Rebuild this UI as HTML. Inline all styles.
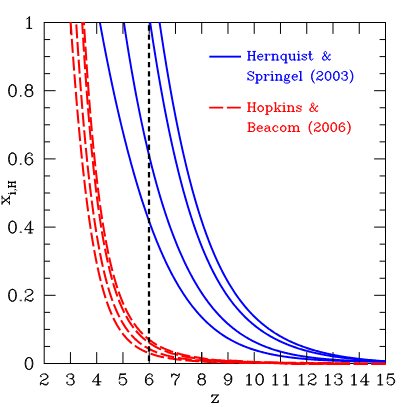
<!DOCTYPE html>
<html><head><meta charset="utf-8"><title>x_i,H vs z</title>
<style>
html,body{margin:0;padding:0;background:#fff;}
body{width:407px;height:407px;overflow:hidden;font-family:"Liberation Serif",serif;}
svg{display:block;}
</style></head><body>
<svg width="407" height="407" viewBox="0 0 407 407">
<rect width="407" height="407" fill="#fff"/>
<defs><clipPath id="c"><rect x="43.7" y="22" width="342.3" height="344"/></clipPath></defs>
<g clip-path="url(#c)" fill="none" stroke="#0000ff" stroke-width="1.95" stroke-linejoin="round">
<path d="M385.50 361.40 L384.71 361.40 L383.92 361.41 L383.14 361.41 L382.35 361.42 L381.56 361.42 L380.77 361.42 L379.99 361.42 L379.20 361.43 L378.41 361.43 L377.62 361.43 L376.84 361.43 L376.05 361.43 L375.26 361.43 L374.47 361.43 L373.69 361.42 L372.90 361.42 L372.11 361.42 L371.32 361.42 L370.54 361.41 L369.75 361.41 L368.96 361.40 L368.17 361.40 L367.38 361.39 L366.60 361.39 L365.81 361.38 L365.02 361.37 L364.23 361.36 L363.45 361.36 L362.66 361.35 L361.87 361.34 L361.08 361.33 L360.30 361.32 L359.51 361.31 L358.72 361.30 L357.93 361.28 L357.15 361.27 L356.36 361.26 L355.57 361.25 L354.78 361.23 L354.00 361.22 L353.21 361.20 L352.42 361.19 L351.63 361.17 L350.84 361.16 L350.06 361.14 L349.27 361.12 L348.48 361.10 L347.69 361.08 L346.91 361.07 L346.12 361.05 L345.33 361.03 L344.54 361.00 L343.76 360.98 L342.97 360.96 L342.18 360.94 L341.39 360.91 L340.61 360.89 L339.82 360.87 L339.03 360.84 L338.24 360.81 L337.46 360.79 L336.67 360.76 L335.88 360.73 L335.09 360.70 L334.31 360.67 L333.52 360.64 L332.73 360.61 L331.94 360.58 L331.15 360.55 L330.37 360.52 L329.58 360.48 L328.79 360.45 L328.00 360.41 L327.22 360.37 L326.43 360.34 L325.64 360.30 L324.85 360.26 L324.07 360.22 L323.28 360.18 L322.49 360.14 L321.70 360.09 L320.92 360.05 L320.13 360.01 L319.34 359.96 L318.55 359.91 L317.77 359.87 L316.98 359.82 L316.19 359.77 L315.40 359.72 L314.61 359.66 L313.83 359.61 L313.04 359.56 L312.25 359.50 L311.46 359.45 L310.68 359.39 L309.89 359.33 L309.10 359.27 L308.31 359.21 L307.53 359.14 L306.74 359.08 L305.95 359.01 L305.16 358.95 L304.38 358.88 L303.59 358.81 L302.80 358.74 L302.01 358.66 L301.23 358.59 L300.44 358.51 L299.65 358.43 L298.86 358.35 L298.07 358.27 L297.29 358.19 L296.50 358.11 L295.71 358.02 L294.92 357.93 L294.14 357.84 L293.35 357.75 L292.56 357.66 L291.77 357.56 L290.99 357.46 L290.20 357.37 L289.41 357.26 L288.62 357.16 L287.84 357.05 L287.05 356.95 L286.26 356.84 L285.47 356.72 L284.69 356.61 L283.90 356.49 L283.11 356.37 L282.32 356.25 L281.53 356.13 L280.75 356.00 L279.96 355.87 L279.17 355.74 L278.38 355.60 L277.60 355.47 L276.81 355.33 L276.02 355.18 L275.23 355.04 L274.45 354.89 L273.66 354.74 L272.87 354.58 L272.08 354.42 L271.30 354.26 L270.51 354.10 L269.72 353.93 L268.93 353.76 L268.15 353.58 L267.36 353.40 L266.57 353.22 L265.78 353.04 L264.99 352.85 L264.21 352.66 L263.42 352.46 L262.63 352.26 L261.84 352.05 L261.06 351.85 L260.27 351.63 L259.48 351.42 L258.69 351.20 L257.91 350.97 L257.12 350.74 L256.33 350.51 L255.54 350.27 L254.76 350.02 L253.97 349.78 L253.18 349.52 L252.39 349.26 L251.61 349.00 L250.82 348.73 L250.03 348.46 L249.24 348.18 L248.45 347.90 L247.67 347.61 L246.88 347.31 L246.09 347.01 L245.30 346.71 L244.52 346.39 L243.73 346.08 L242.94 345.75 L242.15 345.42 L241.37 345.08 L240.58 344.74 L239.79 344.39 L239.00 344.04 L238.22 343.67 L237.43 343.30 L236.64 342.93 L235.85 342.54 L235.07 342.15 L234.28 341.75 L233.49 341.35 L232.70 340.93 L231.92 340.51 L231.13 340.08 L230.34 339.65 L229.55 339.20 L228.76 338.75 L227.98 338.29 L227.19 337.82 L226.40 337.34 L225.61 336.86 L224.83 336.36 L224.04 335.86 L223.25 335.34 L222.46 334.82 L221.68 334.29 L220.89 333.74 L220.10 333.19 L219.31 332.63 L218.53 332.06 L217.74 331.48 L216.95 330.89 L216.16 330.28 L215.38 329.67 L214.59 329.05 L213.80 328.41 L213.01 327.77 L212.22 327.11 L211.44 326.44 L210.65 325.76 L209.86 325.07 L209.07 324.36 L208.29 323.65 L207.50 322.92 L206.71 322.18 L205.92 321.43 L205.14 320.66 L204.35 319.88 L203.56 319.09 L202.77 318.28 L201.99 317.47 L201.20 316.63 L200.41 315.79 L199.62 314.93 L198.84 314.05 L198.05 313.16 L197.26 312.26 L196.47 311.34 L195.68 310.41 L194.90 309.46 L194.11 308.49 L193.32 307.51 L192.53 306.52 L191.75 305.50 L190.96 304.48 L190.17 303.43 L189.38 302.37 L188.60 301.29 L187.81 300.20 L187.02 299.09 L186.23 297.96 L185.45 296.81 L184.66 295.65 L183.87 294.47 L183.08 293.26 L182.30 292.05 L181.51 290.81 L180.72 289.55 L179.93 288.28 L179.14 286.98 L178.36 285.67 L177.57 284.33 L176.78 282.98 L175.99 281.61 L175.21 280.21 L174.42 278.80 L173.63 277.36 L172.84 275.90 L172.06 274.43 L171.27 272.93 L170.48 271.41 L169.69 269.87 L168.91 268.30 L168.12 266.72 L167.33 265.11 L166.54 263.48 L165.76 261.82 L164.97 260.15 L164.18 258.45 L163.39 256.72 L162.60 254.97 L161.82 253.20 L161.03 251.41 L160.24 249.59 L159.45 247.74 L158.67 245.88 L157.88 243.98 L157.09 242.06 L156.30 240.12 L155.52 238.15 L154.73 236.16 L153.94 234.14 L153.15 232.09 L152.37 230.02 L151.58 227.92 L150.79 225.79 L150.00 223.64 L149.22 221.46 L148.43 219.25 L147.64 217.01 L146.85 214.75 L146.06 212.46 L145.28 210.14 L144.49 207.80 L143.70 205.42 L142.91 203.02 L142.13 200.59 L141.34 198.12 L140.55 195.63 L139.76 193.11 L138.98 190.57 L138.19 187.99 L137.40 185.38 L136.61 182.74 L135.83 180.07 L135.04 177.37 L134.25 174.64 L133.46 171.88 L132.68 169.09 L131.89 166.26 L131.10 163.41 L130.31 160.52 L129.53 157.61 L128.74 154.66 L127.95 151.67 L127.16 148.66 L126.37 145.61 L125.59 142.53 L124.80 139.42 L124.01 136.28 L123.22 133.10 L122.44 129.88 L121.65 126.64 L120.86 123.36 L120.07 120.04 L119.29 116.69 L118.50 113.31 L117.71 109.89 L116.92 106.44 L116.14 102.95 L115.35 99.42 L114.56 95.86 L113.77 92.26 L112.99 88.63 L112.20 84.96 L111.41 81.25 L110.62 77.50 L109.83 73.72 L109.05 69.90 L108.26 66.04 L107.47 62.14 L106.68 58.21 L105.90 54.23 L105.11 50.21 L104.32 46.16 L103.53 42.06 L102.75 37.92 L101.96 33.74 L101.17 29.52 L100.38 25.25 L99.60 20.95 L98.81 16.60"/>
<path d="M385.50 361.63 L384.71 361.62 L383.92 361.61 L383.14 361.60 L382.35 361.59 L381.56 361.57 L380.77 361.56 L379.99 361.55 L379.20 361.53 L378.41 361.52 L377.62 361.51 L376.84 361.49 L376.05 361.48 L375.26 361.46 L374.47 361.44 L373.69 361.43 L372.90 361.41 L372.11 361.39 L371.32 361.37 L370.54 361.35 L369.75 361.33 L368.96 361.31 L368.17 361.29 L367.38 361.27 L366.60 361.25 L365.81 361.23 L365.02 361.20 L364.23 361.18 L363.45 361.15 L362.66 361.13 L361.87 361.10 L361.08 361.08 L360.30 361.05 L359.51 361.02 L358.72 361.00 L357.93 360.97 L357.15 360.94 L356.36 360.91 L355.57 360.88 L354.78 360.85 L354.00 360.81 L353.21 360.78 L352.42 360.75 L351.63 360.71 L350.84 360.68 L350.06 360.64 L349.27 360.61 L348.48 360.57 L347.69 360.53 L346.91 360.49 L346.12 360.45 L345.33 360.41 L344.54 360.37 L343.76 360.32 L342.97 360.28 L342.18 360.24 L341.39 360.19 L340.61 360.14 L339.82 360.10 L339.03 360.05 L338.24 360.00 L337.46 359.95 L336.67 359.90 L335.88 359.84 L335.09 359.79 L334.31 359.73 L333.52 359.68 L332.73 359.62 L331.94 359.56 L331.15 359.50 L330.37 359.44 L329.58 359.38 L328.79 359.31 L328.00 359.25 L327.22 359.18 L326.43 359.12 L325.64 359.05 L324.85 358.98 L324.07 358.90 L323.28 358.83 L322.49 358.76 L321.70 358.68 L320.92 358.60 L320.13 358.52 L319.34 358.44 L318.55 358.36 L317.77 358.27 L316.98 358.19 L316.19 358.10 L315.40 358.01 L314.61 357.92 L313.83 357.82 L313.04 357.73 L312.25 357.63 L311.46 357.53 L310.68 357.43 L309.89 357.33 L309.10 357.22 L308.31 357.11 L307.53 357.00 L306.74 356.89 L305.95 356.78 L305.16 356.66 L304.38 356.54 L303.59 356.42 L302.80 356.30 L302.01 356.17 L301.23 356.05 L300.44 355.91 L299.65 355.78 L298.86 355.64 L298.07 355.51 L297.29 355.36 L296.50 355.22 L295.71 355.07 L294.92 354.92 L294.14 354.77 L293.35 354.62 L292.56 354.46 L291.77 354.29 L290.99 354.13 L290.20 353.96 L289.41 353.79 L288.62 353.61 L287.84 353.44 L287.05 353.25 L286.26 353.07 L285.47 352.88 L284.69 352.69 L283.90 352.49 L283.11 352.29 L282.32 352.09 L281.53 351.88 L280.75 351.67 L279.96 351.46 L279.17 351.24 L278.38 351.01 L277.60 350.78 L276.81 350.55 L276.02 350.32 L275.23 350.08 L274.45 349.83 L273.66 349.58 L272.87 349.33 L272.08 349.07 L271.30 348.80 L270.51 348.53 L269.72 348.26 L268.93 347.98 L268.15 347.69 L267.36 347.40 L266.57 347.11 L265.78 346.81 L264.99 346.50 L264.21 346.19 L263.42 345.87 L262.63 345.55 L261.84 345.22 L261.06 344.89 L260.27 344.54 L259.48 344.20 L258.69 343.84 L257.91 343.48 L257.12 343.12 L256.33 342.74 L255.54 342.36 L254.76 341.98 L253.97 341.58 L253.18 341.18 L252.39 340.77 L251.61 340.36 L250.82 339.94 L250.03 339.51 L249.24 339.07 L248.45 338.62 L247.67 338.17 L246.88 337.71 L246.09 337.24 L245.30 336.76 L244.52 336.28 L243.73 335.78 L242.94 335.28 L242.15 334.77 L241.37 334.25 L240.58 333.72 L239.79 333.18 L239.00 332.63 L238.22 332.07 L237.43 331.51 L236.64 330.93 L235.85 330.34 L235.07 329.75 L234.28 329.14 L233.49 328.52 L232.70 327.90 L231.92 327.26 L231.13 326.61 L230.34 325.95 L229.55 325.28 L228.76 324.60 L227.98 323.90 L227.19 323.20 L226.40 322.48 L225.61 321.75 L224.83 321.01 L224.04 320.26 L223.25 319.49 L222.46 318.72 L221.68 317.93 L220.89 317.12 L220.10 316.30 L219.31 315.47 L218.53 314.63 L217.74 313.77 L216.95 312.90 L216.16 312.01 L215.38 311.11 L214.59 310.20 L213.80 309.27 L213.01 308.32 L212.22 307.36 L211.44 306.39 L210.65 305.40 L209.86 304.39 L209.07 303.37 L208.29 302.33 L207.50 301.27 L206.71 300.20 L205.92 299.11 L205.14 298.00 L204.35 296.88 L203.56 295.74 L202.77 294.58 L201.99 293.40 L201.20 292.20 L200.41 290.99 L199.62 289.75 L198.84 288.50 L198.05 287.23 L197.26 285.93 L196.47 284.62 L195.68 283.29 L194.90 281.93 L194.11 280.56 L193.32 279.16 L192.53 277.75 L191.75 276.31 L190.96 274.85 L190.17 273.36 L189.38 271.86 L188.60 270.33 L187.81 268.77 L187.02 267.20 L186.23 265.60 L185.45 263.97 L184.66 262.32 L183.87 260.65 L183.08 258.95 L182.30 257.22 L181.51 255.47 L180.72 253.69 L179.93 251.89 L179.14 250.06 L178.36 248.20 L177.57 246.31 L176.78 244.39 L175.99 242.45 L175.21 240.48 L174.42 238.47 L173.63 236.44 L172.84 234.38 L172.06 232.28 L171.27 230.16 L170.48 228.00 L169.69 225.81 L168.91 223.59 L168.12 221.33 L167.33 219.05 L166.54 216.72 L165.76 214.37 L164.97 211.98 L164.18 209.55 L163.39 207.09 L162.60 204.59 L161.82 202.05 L161.03 199.48 L160.24 196.86 L159.45 194.21 L158.67 191.52 L157.88 188.79 L157.09 186.02 L156.30 183.21 L155.52 180.36 L154.73 177.46 L153.94 174.53 L153.15 171.54 L152.37 168.52 L151.58 165.45 L150.79 162.33 L150.00 159.17 L149.22 155.96 L148.43 152.70 L147.64 149.40 L146.85 146.04 L146.06 142.64 L145.28 139.18 L144.49 135.68 L143.70 132.12 L142.91 128.51 L142.13 124.84 L141.34 121.12 L140.55 117.34 L139.76 113.51 L138.98 109.62 L138.19 105.67 L137.40 101.66 L136.61 97.58 L135.83 93.45 L135.04 89.26 L134.25 85.00 L133.46 80.67 L132.68 76.28 L131.89 71.82 L131.10 67.30 L130.31 62.70 L129.53 58.04 L128.74 53.30 L127.95 48.48 L127.16 43.60 L126.37 38.63 L125.59 33.59 L124.80 28.47 L124.01 23.27 L123.22 17.98"/>
</g>
<g stroke="#000" fill="none" shape-rendering="auto">
<rect x="44.2" y="22.5" width="341.3" height="341.0" stroke-width="1"/>
</g>
<g stroke="#000" stroke-width="1" fill="none">
<path d="M70.45 363.5 v-11.4 M70.45 22.5 v11.4 M96.71 363.5 v-11.4 M96.71 22.5 v11.4 M122.96 363.5 v-11.4 M122.96 22.5 v11.4 M149.22 363.5 v-11.4 M149.22 22.5 v11.4 M175.47 363.5 v-11.4 M175.47 22.5 v11.4 M201.72 363.5 v-11.4 M201.72 22.5 v11.4 M227.98 363.5 v-11.4 M227.98 22.5 v11.4 M254.23 363.5 v-11.4 M254.23 22.5 v11.4 M280.48 363.5 v-11.4 M280.48 22.5 v11.4 M306.74 363.5 v-11.4 M306.74 22.5 v11.4 M332.99 363.5 v-11.4 M332.99 22.5 v11.4 M359.25 363.5 v-11.4 M359.25 22.5 v11.4 M44.2 346.45 h5.9 M385.5 346.45 h-5.9 M44.2 329.40 h5.9 M385.5 329.40 h-5.9 M44.2 312.35 h5.9 M385.5 312.35 h-5.9 M44.2 295.30 h11.4 M385.5 295.30 h-11.4 M44.2 278.25 h5.9 M385.5 278.25 h-5.9 M44.2 261.20 h5.9 M385.5 261.20 h-5.9 M44.2 244.15 h5.9 M385.5 244.15 h-5.9 M44.2 227.10 h11.4 M385.5 227.10 h-11.4 M44.2 210.05 h5.9 M385.5 210.05 h-5.9 M44.2 193.00 h5.9 M385.5 193.00 h-5.9 M44.2 175.95 h5.9 M385.5 175.95 h-5.9 M44.2 158.90 h11.4 M385.5 158.90 h-11.4 M44.2 141.85 h5.9 M385.5 141.85 h-5.9 M44.2 124.80 h5.9 M385.5 124.80 h-5.9 M44.2 107.75 h5.9 M385.5 107.75 h-5.9 M44.2 90.70 h11.4 M385.5 90.70 h-11.4 M44.2 73.65 h5.9 M385.5 73.65 h-5.9 M44.2 56.60 h5.9 M385.5 56.60 h-5.9 M44.2 39.55 h5.9 M385.5 39.55 h-5.9"/>
</g>
<g clip-path="url(#c)" fill="none" stroke="#0000ff" stroke-width="1.95" stroke-linejoin="round">
<path d="M385.50 361.43 L384.71 361.39 L383.92 361.35 L383.14 361.30 L382.35 361.26 L381.56 361.21 L380.77 361.17 L379.99 361.12 L379.20 361.07 L378.41 361.03 L377.62 360.98 L376.84 360.93 L376.05 360.88 L375.26 360.82 L374.47 360.77 L373.69 360.72 L372.90 360.66 L372.11 360.61 L371.32 360.55 L370.54 360.50 L369.75 360.44 L368.96 360.38 L368.17 360.32 L367.38 360.26 L366.60 360.20 L365.81 360.13 L365.02 360.07 L364.23 360.00 L363.45 359.94 L362.66 359.87 L361.87 359.80 L361.08 359.73 L360.30 359.66 L359.51 359.59 L358.72 359.52 L357.93 359.44 L357.15 359.37 L356.36 359.29 L355.57 359.21 L354.78 359.13 L354.00 359.05 L353.21 358.97 L352.42 358.89 L351.63 358.80 L350.84 358.72 L350.06 358.63 L349.27 358.54 L348.48 358.45 L347.69 358.36 L346.91 358.27 L346.12 358.17 L345.33 358.08 L344.54 357.98 L343.76 357.88 L342.97 357.78 L342.18 357.68 L341.39 357.57 L340.61 357.47 L339.82 357.36 L339.03 357.25 L338.24 357.14 L337.46 357.03 L336.67 356.91 L335.88 356.80 L335.09 356.68 L334.31 356.56 L333.52 356.44 L332.73 356.31 L331.94 356.19 L331.15 356.06 L330.37 355.93 L329.58 355.80 L328.79 355.66 L328.00 355.53 L327.22 355.39 L326.43 355.25 L325.64 355.10 L324.85 354.96 L324.07 354.81 L323.28 354.66 L322.49 354.51 L321.70 354.35 L320.92 354.20 L320.13 354.04 L319.34 353.87 L318.55 353.71 L317.77 353.54 L316.98 353.37 L316.19 353.20 L315.40 353.02 L314.61 352.84 L313.83 352.66 L313.04 352.47 L312.25 352.29 L311.46 352.09 L310.68 351.90 L309.89 351.70 L309.10 351.50 L308.31 351.30 L307.53 351.09 L306.74 350.88 L305.95 350.67 L305.16 350.45 L304.38 350.23 L303.59 350.00 L302.80 349.78 L302.01 349.54 L301.23 349.31 L300.44 349.07 L299.65 348.83 L298.86 348.58 L298.07 348.33 L297.29 348.07 L296.50 347.81 L295.71 347.55 L294.92 347.28 L294.14 347.01 L293.35 346.73 L292.56 346.45 L291.77 346.16 L290.99 345.87 L290.20 345.57 L289.41 345.27 L288.62 344.97 L287.84 344.65 L287.05 344.34 L286.26 344.02 L285.47 343.69 L284.69 343.36 L283.90 343.02 L283.11 342.68 L282.32 342.33 L281.53 341.97 L280.75 341.61 L279.96 341.25 L279.17 340.87 L278.38 340.50 L277.60 340.11 L276.81 339.72 L276.02 339.32 L275.23 338.91 L274.45 338.50 L273.66 338.08 L272.87 337.66 L272.08 337.23 L271.30 336.79 L270.51 336.34 L269.72 335.88 L268.93 335.42 L268.15 334.95 L267.36 334.47 L266.57 333.99 L265.78 333.49 L264.99 332.99 L264.21 332.48 L263.42 331.96 L262.63 331.43 L261.84 330.89 L261.06 330.34 L260.27 329.79 L259.48 329.22 L258.69 328.65 L257.91 328.06 L257.12 327.47 L256.33 326.86 L255.54 326.25 L254.76 325.62 L253.97 324.99 L253.18 324.34 L252.39 323.68 L251.61 323.01 L250.82 322.33 L250.03 321.64 L249.24 320.94 L248.45 320.22 L247.67 319.49 L246.88 318.75 L246.09 318.00 L245.30 317.23 L244.52 316.45 L243.73 315.66 L242.94 314.85 L242.15 314.03 L241.37 313.20 L240.58 312.35 L239.79 311.49 L239.00 310.61 L238.22 309.72 L237.43 308.81 L236.64 307.89 L235.85 306.95 L235.07 305.99 L234.28 305.02 L233.49 304.04 L232.70 303.03 L231.92 302.01 L231.13 300.97 L230.34 299.91 L229.55 298.84 L228.76 297.74 L227.98 296.63 L227.19 295.50 L226.40 294.35 L225.61 293.18 L224.83 291.98 L224.04 290.77 L223.25 289.54 L222.46 288.29 L221.68 287.01 L220.89 285.72 L220.10 284.40 L219.31 283.06 L218.53 281.70 L217.74 280.31 L216.95 278.90 L216.16 277.47 L215.38 276.01 L214.59 274.52 L213.80 273.01 L213.01 271.48 L212.22 269.92 L211.44 268.33 L210.65 266.72 L209.86 265.08 L209.07 263.41 L208.29 261.71 L207.50 259.99 L206.71 258.24 L205.92 256.45 L205.14 254.64 L204.35 252.79 L203.56 250.92 L202.77 249.01 L201.99 247.07 L201.20 245.10 L200.41 243.10 L199.62 241.06 L198.84 238.99 L198.05 236.89 L197.26 234.75 L196.47 232.57 L195.68 230.36 L194.90 228.11 L194.11 225.83 L193.32 223.51 L192.53 221.15 L191.75 218.75 L190.96 216.31 L190.17 213.83 L189.38 211.32 L188.60 208.76 L187.81 206.16 L187.02 203.52 L186.23 200.83 L185.45 198.11 L184.66 195.34 L183.87 192.52 L183.08 189.66 L182.30 186.76 L181.51 183.81 L180.72 180.81 L179.93 177.76 L179.14 174.67 L178.36 171.53 L177.57 168.34 L176.78 165.10 L175.99 161.81 L175.21 158.47 L174.42 155.08 L173.63 151.64 L172.84 148.15 L172.06 144.60 L171.27 141.00 L170.48 137.34 L169.69 133.63 L168.91 129.86 L168.12 126.04 L167.33 122.17 L166.54 118.23 L165.76 114.24 L164.97 110.19 L164.18 106.08 L163.39 101.91 L162.60 97.68 L161.82 93.39 L161.03 89.04 L160.24 84.63 L159.45 80.16 L158.67 75.62 L157.88 71.03 L157.09 66.37 L156.30 61.64 L155.52 56.85 L154.73 52.00 L153.94 47.08 L153.15 42.10 L152.37 37.05 L151.58 31.93 L150.79 26.75 L150.00 21.50 L149.48 17.97"/>
<path d="M385.50 361.25 L384.71 361.20 L383.92 361.15 L383.14 361.09 L382.35 361.04 L381.56 360.98 L380.77 360.92 L379.99 360.86 L379.20 360.80 L378.41 360.74 L377.62 360.68 L376.84 360.62 L376.05 360.55 L375.26 360.49 L374.47 360.42 L373.69 360.36 L372.90 360.29 L372.11 360.22 L371.32 360.15 L370.54 360.07 L369.75 360.00 L368.96 359.92 L368.17 359.85 L367.38 359.77 L366.60 359.69 L365.81 359.61 L365.02 359.53 L364.23 359.45 L363.45 359.36 L362.66 359.28 L361.87 359.19 L361.08 359.10 L360.30 359.01 L359.51 358.92 L358.72 358.83 L357.93 358.73 L357.15 358.64 L356.36 358.54 L355.57 358.44 L354.78 358.34 L354.00 358.24 L353.21 358.13 L352.42 358.03 L351.63 357.92 L350.84 357.81 L350.06 357.70 L349.27 357.59 L348.48 357.47 L347.69 357.36 L346.91 357.24 L346.12 357.12 L345.33 357.00 L344.54 356.87 L343.76 356.75 L342.97 356.62 L342.18 356.49 L341.39 356.36 L340.61 356.22 L339.82 356.09 L339.03 355.95 L338.24 355.81 L337.46 355.67 L336.67 355.52 L335.88 355.37 L335.09 355.22 L334.31 355.07 L333.52 354.92 L332.73 354.76 L331.94 354.60 L331.15 354.44 L330.37 354.28 L329.58 354.11 L328.79 353.94 L328.00 353.77 L327.22 353.59 L326.43 353.42 L325.64 353.24 L324.85 353.05 L324.07 352.87 L323.28 352.68 L322.49 352.49 L321.70 352.29 L320.92 352.09 L320.13 351.89 L319.34 351.69 L318.55 351.48 L317.77 351.27 L316.98 351.06 L316.19 350.84 L315.40 350.62 L314.61 350.40 L313.83 350.17 L313.04 349.94 L312.25 349.70 L311.46 349.46 L310.68 349.22 L309.89 348.98 L309.10 348.73 L308.31 348.47 L307.53 348.21 L306.74 347.95 L305.95 347.69 L305.16 347.42 L304.38 347.14 L303.59 346.86 L302.80 346.58 L302.01 346.29 L301.23 346.00 L300.44 345.70 L299.65 345.40 L298.86 345.10 L298.07 344.78 L297.29 344.47 L296.50 344.15 L295.71 343.82 L294.92 343.49 L294.14 343.15 L293.35 342.81 L292.56 342.46 L291.77 342.11 L290.99 341.75 L290.20 341.38 L289.41 341.01 L288.62 340.64 L287.84 340.25 L287.05 339.87 L286.26 339.47 L285.47 339.07 L284.69 338.66 L283.90 338.25 L283.11 337.83 L282.32 337.40 L281.53 336.96 L280.75 336.52 L279.96 336.07 L279.17 335.61 L278.38 335.15 L277.60 334.68 L276.81 334.20 L276.02 333.71 L275.23 333.22 L274.45 332.71 L273.66 332.20 L272.87 331.68 L272.08 331.15 L271.30 330.61 L270.51 330.07 L269.72 329.51 L268.93 328.95 L268.15 328.37 L267.36 327.79 L266.57 327.20 L265.78 326.59 L264.99 325.98 L264.21 325.36 L263.42 324.72 L262.63 324.08 L261.84 323.42 L261.06 322.76 L260.27 322.08 L259.48 321.39 L258.69 320.69 L257.91 319.98 L257.12 319.26 L256.33 318.52 L255.54 317.77 L254.76 317.01 L253.97 316.24 L253.18 315.45 L252.39 314.65 L251.61 313.84 L250.82 313.01 L250.03 312.17 L249.24 311.32 L248.45 310.45 L247.67 309.56 L246.88 308.66 L246.09 307.75 L245.30 306.82 L244.52 305.87 L243.73 304.91 L242.94 303.93 L242.15 302.94 L241.37 301.92 L240.58 300.89 L239.79 299.85 L239.00 298.78 L238.22 297.70 L237.43 296.60 L236.64 295.48 L235.85 294.34 L235.07 293.18 L234.28 292.00 L233.49 290.80 L232.70 289.59 L231.92 288.35 L231.13 287.09 L230.34 285.80 L229.55 284.50 L228.76 283.17 L227.98 281.82 L227.19 280.45 L226.40 279.06 L225.61 277.64 L224.83 276.19 L224.04 274.73 L223.25 273.23 L222.46 271.71 L221.68 270.17 L220.89 268.60 L220.10 267.00 L219.31 265.38 L218.53 263.72 L217.74 262.04 L216.95 260.33 L216.16 258.60 L215.38 256.83 L214.59 255.03 L213.80 253.20 L213.01 251.35 L212.22 249.46 L211.44 247.53 L210.65 245.58 L209.86 243.59 L209.07 241.57 L208.29 239.52 L207.50 237.43 L206.71 235.30 L205.92 233.14 L205.14 230.95 L204.35 228.72 L203.56 226.45 L202.77 224.14 L201.99 221.79 L201.20 219.41 L200.41 216.98 L199.62 214.52 L198.84 212.01 L198.05 209.47 L197.26 206.88 L196.47 204.25 L195.68 201.58 L194.90 198.86 L194.11 196.10 L193.32 193.29 L192.53 190.44 L191.75 187.54 L190.96 184.60 L190.17 181.61 L189.38 178.57 L188.60 175.48 L187.81 172.34 L187.02 169.16 L186.23 165.92 L185.45 162.63 L184.66 159.29 L183.87 155.90 L183.08 152.45 L182.30 148.95 L181.51 145.40 L180.72 141.79 L179.93 138.13 L179.14 134.41 L178.36 130.63 L177.57 126.80 L176.78 122.91 L175.99 118.96 L175.21 114.95 L174.42 110.88 L173.63 106.75 L172.84 102.57 L172.06 98.31 L171.27 94.00 L170.48 89.63 L169.69 85.19 L168.91 80.69 L168.12 76.12 L167.33 71.49 L166.54 66.79 L165.76 62.03 L164.97 57.21 L164.18 52.31 L163.39 47.35 L162.60 42.32 L161.82 37.23 L161.03 32.07 L160.24 26.83 L159.45 21.53 L158.93 17.96"/>
</g>
<g clip-path="url(#c)" fill="none" stroke="#ff0000" stroke-width="2.05" stroke-dasharray="14.0 3.7" stroke-linejoin="round">
<path d="M385.50 364.05 L384.71 364.05 L383.92 364.05 L383.14 364.05 L382.35 364.05 L381.56 364.05 L380.77 364.05 L379.99 364.05 L379.20 364.05 L378.41 364.05 L377.62 364.05 L376.84 364.05 L376.05 364.05 L375.26 364.05 L374.47 364.05 L373.69 364.05 L372.90 364.05 L372.11 364.05 L371.32 364.05 L370.54 364.05 L369.75 364.05 L368.96 364.05 L368.17 364.05 L367.38 364.05 L366.60 364.05 L365.81 364.05 L365.02 364.05 L364.23 364.05 L363.45 364.04 L362.66 364.04 L361.87 364.04 L361.08 364.04 L360.30 364.04 L359.51 364.04 L358.72 364.03 L357.93 364.03 L357.15 364.03 L356.36 364.03 L355.57 364.03 L354.78 364.02 L354.00 364.02 L353.21 364.02 L352.42 364.02 L351.63 364.02 L350.84 364.01 L350.06 364.01 L349.27 364.01 L348.48 364.01 L347.69 364.01 L346.91 364.00 L346.12 364.00 L345.33 364.00 L344.54 364.00 L343.76 364.00 L342.97 364.00 L342.18 363.99 L341.39 363.99 L340.61 363.99 L340.50 363.99"/>
<path d="M340.50 363.99 L339.82 363.99 L339.03 363.99 L338.24 363.99 L337.46 363.98 L336.67 363.98 L335.88 363.98 L335.09 363.98 L334.31 363.98 L333.52 363.98 L332.73 363.97 L331.94 363.97 L331.15 363.97 L330.37 363.97 L329.58 363.97 L328.79 363.97 L328.00 363.96 L327.22 363.96 L326.43 363.96 L325.64 363.96 L324.85 363.96 L324.07 363.96 L323.28 363.96 L322.49 363.95 L321.70 363.95 L320.92 363.95 L320.13 363.95 L319.34 363.95 L318.55 363.95 L317.77 363.95 L316.98 363.95 L316.19 363.94 L315.40 363.94 L314.61 363.94 L313.83 363.94 L313.04 363.94 L312.25 363.94 L311.46 363.94 L310.68 363.94 L309.89 363.94 L309.10 363.94 L308.31 363.93 L307.53 363.93 L306.74 363.93 L305.95 363.93 L305.16 363.93 L304.38 363.93 L303.59 363.93 L302.80 363.93 L302.01 363.92 L301.23 363.92 L300.44 363.92 L299.65 363.92 L298.86 363.92 L298.07 363.91 L297.29 363.91 L296.50 363.91 L295.71 363.91 L294.92 363.90 L294.14 363.90 L293.35 363.90 L292.56 363.89 L291.77 363.87 L290.99 363.85 L290.20 363.83 L289.41 363.80 L288.62 363.77 L287.84 363.74 L287.05 363.70 L286.26 363.66 L285.47 363.63 L284.69 363.59 L283.90 363.55 L283.11 363.51 L282.32 363.47 L281.53 363.43 L280.75 363.39 L279.96 363.36 L279.17 363.32 L278.38 363.29 L277.60 363.27 L276.81 363.24 L276.02 363.22 L275.23 363.20 L274.45 363.19 L273.66 363.18 L272.87 363.17 L272.08 363.15 L271.30 363.14 L270.51 363.13 L269.72 363.11 L268.93 363.10 L268.15 363.09 L267.36 363.08 L266.57 363.06 L265.78 363.05 L264.99 363.04 L264.21 363.03 L263.42 363.02 L262.63 363.00 L261.84 362.99 L261.06 362.98 L260.27 362.97 L259.48 362.96 L258.69 362.95 L257.91 362.94 L257.12 362.93 L256.33 362.92 L255.54 362.91 L254.76 362.90 L253.97 362.89 L253.18 362.88 L252.39 362.88 L251.61 362.87 L250.82 362.87 L250.03 362.86 L249.24 362.86 L248.45 362.86 L247.67 362.86 L246.88 362.86 L246.09 362.86 L245.30 362.86 L244.52 362.86 L243.73 362.86 L242.94 362.86 L242.15 362.85 L241.37 362.85 L240.58 362.85 L239.79 362.85 L239.00 362.84 L238.22 362.84 L237.43 362.83 L236.64 362.82 L235.85 362.81 L235.07 362.80 L234.28 362.79 L233.49 362.78 L232.70 362.76 L231.92 362.75 L231.13 362.74 L230.34 362.72 L229.55 362.71 L228.76 362.69 L227.98 362.67 L227.19 362.66 L226.40 362.64 L225.61 362.62 L224.83 362.60 L224.04 362.59 L223.25 362.57 L222.46 362.54 L221.68 362.52 L220.89 362.50 L220.10 362.48 L219.31 362.45 L218.53 362.43 L217.74 362.40 L216.95 362.37 L216.16 362.34 L215.38 362.31 L214.59 362.28 L213.80 362.25 L213.01 362.21 L212.22 362.17 L211.44 362.12 L210.65 362.07 L209.86 362.03 L209.07 361.97 L208.29 361.92 L207.50 361.87 L206.71 361.81 L205.92 361.76 L205.14 361.71 L204.35 361.65 L203.56 361.60 L202.77 361.55 L201.99 361.50 L201.20 361.45 L200.41 361.41 L199.62 361.36 L198.84 361.31 L198.05 361.26 L197.26 361.21 L196.47 361.16 L195.68 361.11 L194.90 361.06 L194.11 361.00 L193.32 360.95 L192.53 360.89 L191.75 360.83 L190.96 360.77 L190.17 360.71 L189.38 360.65 L188.60 360.58 L187.81 360.51 L187.02 360.45 L186.23 360.38 L185.45 360.30 L184.66 360.23 L183.87 360.15 L183.08 360.08 L182.30 360.00 L181.51 359.91 L180.72 359.83 L179.93 359.74 L179.14 359.65 L178.36 359.56 L177.57 359.47 L176.78 359.37 L175.99 359.27 L175.21 359.17 L174.42 359.07 L173.63 358.96 L172.84 358.85 L172.06 358.73 L171.27 358.61 L170.48 358.49 L169.69 358.37 L168.91 358.24 L168.12 358.10 L167.33 357.97 L166.54 357.82 L165.76 357.68 L164.97 357.53 L164.18 357.37 L163.39 357.21 L162.60 357.05 L161.82 356.88 L161.03 356.70 L160.24 356.52 L159.45 356.33 L158.67 356.14 L157.88 355.93 L157.09 355.73 L156.30 355.51 L155.52 355.29 L154.73 355.06 L153.94 354.83 L153.15 354.58 L152.37 354.33 L151.58 354.07 L150.79 353.80 L150.00 353.52 L149.22 353.23 L148.43 352.93 L147.64 352.62 L146.85 352.29 L146.06 351.96 L145.28 351.62 L144.49 351.26 L143.70 350.89 L142.91 350.50 L142.13 350.11 L141.34 349.69 L140.55 349.26 L139.76 348.82 L138.98 348.36 L138.19 347.88 L137.40 347.39 L136.61 346.87 L135.83 346.34 L135.04 345.78 L134.25 345.21 L133.46 344.61 L132.68 343.99 L131.89 343.35 L131.10 342.68 L130.31 341.98 L129.53 341.26 L128.74 340.51 L127.95 339.73 L127.16 338.92 L126.37 338.08 L125.59 337.20 L124.80 336.29 L124.01 335.34 L123.22 334.36 L122.44 333.34 L121.65 332.27 L120.86 331.16 L120.07 330.01 L119.29 328.81 L118.50 327.56 L117.71 326.26 L116.92 324.91 L116.14 323.51 L115.35 322.04 L114.56 320.52 L113.77 318.94 L112.99 317.29 L112.20 315.57 L111.41 313.78 L110.62 311.92 L109.83 309.98 L109.05 307.96 L108.26 305.86 L107.47 303.68 L106.68 301.40 L105.90 299.03 L105.11 296.57 L104.32 294.00 L103.53 291.33 L102.75 288.55 L101.96 285.65 L101.17 282.64 L100.38 279.51 L99.60 276.25 L98.81 272.86 L98.02 269.33 L97.23 265.66 L96.45 261.85 L95.66 257.88 L94.87 253.76 L94.08 249.47 L93.29 245.02 L92.51 240.39 L91.72 235.59 L90.93 230.60 L90.14 225.42 L89.36 220.05 L88.57 214.47 L87.78 208.69 L86.99 202.69 L86.21 196.48 L85.42 190.04 L84.63 183.38 L83.84 176.48 L83.06 169.34 L82.27 161.96 L81.48 154.33 L80.69 146.44 L79.91 138.30 L79.12 129.89 L78.33 121.22 L77.54 112.29 L76.75 103.08 L75.97 93.60 L75.18 83.84 L74.39 73.81 L73.60 63.51 L72.82 52.92 L72.03 42.06 L71.24 30.93 L70.45 19.53" stroke-dashoffset="0.25"/>
<path d="M385.50 363.95 L384.71 363.95 L383.92 363.95 L383.14 363.95 L382.35 363.95 L381.56 363.95 L380.77 363.95 L379.99 363.94 L379.20 363.94 L378.41 363.94 L377.62 363.94 L376.84 363.93 L376.05 363.93 L375.26 363.93 L374.47 363.92 L373.69 363.92 L372.90 363.91 L372.11 363.91 L371.32 363.91 L370.54 363.90 L369.75 363.90 L368.96 363.90 L368.17 363.89 L367.38 363.89 L366.60 363.88 L365.81 363.88 L365.02 363.88 L364.23 363.87 L363.45 363.87 L362.66 363.86 L361.87 363.86 L361.08 363.85 L360.30 363.85 L359.51 363.84 L358.72 363.84 L357.93 363.83 L357.15 363.83 L356.36 363.82 L355.57 363.82 L354.78 363.81 L354.00 363.81 L353.21 363.80 L352.42 363.80 L351.63 363.79 L350.84 363.79 L350.06 363.78 L349.27 363.78 L348.48 363.77 L347.69 363.77 L346.91 363.76 L346.12 363.76 L345.33 363.75 L344.54 363.75 L343.76 363.74 L342.97 363.74 L342.18 363.73 L341.39 363.73 L340.61 363.72 L340.50 363.72"/>
<path d="M340.50 363.72 L339.82 363.72 L339.03 363.71 L338.24 363.71 L337.46 363.70 L336.67 363.70 L335.88 363.69 L335.09 363.68 L334.31 363.68 L333.52 363.67 L332.73 363.67 L331.94 363.66 L331.15 363.66 L330.37 363.65 L329.58 363.65 L328.79 363.64 L328.00 363.64 L327.22 363.63 L326.43 363.63 L325.64 363.62 L324.85 363.62 L324.07 363.62 L323.28 363.61 L322.49 363.61 L321.70 363.61 L320.92 363.60 L320.13 363.60 L319.34 363.60 L318.55 363.60 L317.77 363.59 L316.98 363.59 L316.19 363.59 L315.40 363.59 L314.61 363.58 L313.83 363.58 L313.04 363.58 L312.25 363.58 L311.46 363.57 L310.68 363.57 L309.89 363.57 L309.10 363.57 L308.31 363.56 L307.53 363.56 L306.74 363.56 L305.95 363.56 L305.16 363.55 L304.38 363.55 L303.59 363.55 L302.80 363.54 L302.01 363.54 L301.23 363.54 L300.44 363.53 L299.65 363.53 L298.86 363.53 L298.07 363.52 L297.29 363.52 L296.50 363.51 L295.71 363.51 L294.92 363.51 L294.14 363.50 L293.35 363.49 L292.56 363.48 L291.77 363.47 L290.99 363.45 L290.20 363.43 L289.41 363.41 L288.62 363.38 L287.84 363.35 L287.05 363.32 L286.26 363.29 L285.47 363.26 L284.69 363.23 L283.90 363.19 L283.11 363.16 L282.32 363.13 L281.53 363.09 L280.75 363.06 L279.96 363.03 L279.17 363.01 L278.38 362.98 L277.60 362.96 L276.81 362.94 L276.02 362.92 L275.23 362.90 L274.45 362.89 L273.66 362.88 L272.87 362.87 L272.08 362.86 L271.30 362.85 L270.51 362.84 L269.72 362.83 L268.93 362.82 L268.15 362.81 L267.36 362.80 L266.57 362.78 L265.78 362.77 L264.99 362.76 L264.21 362.75 L263.42 362.74 L262.63 362.73 L261.84 362.72 L261.06 362.70 L260.27 362.69 L259.48 362.68 L258.69 362.67 L257.91 362.65 L257.12 362.64 L256.33 362.62 L255.54 362.61 L254.76 362.60 L253.97 362.58 L253.18 362.56 L252.39 362.55 L251.61 362.53 L250.82 362.51 L250.03 362.49 L249.24 362.48 L248.45 362.46 L247.67 362.44 L246.88 362.42 L246.09 362.40 L245.30 362.38 L244.52 362.36 L243.73 362.34 L242.94 362.32 L242.15 362.30 L241.37 362.28 L240.58 362.25 L239.79 362.23 L239.00 362.21 L238.22 362.19 L237.43 362.17 L236.64 362.15 L235.85 362.12 L235.07 362.10 L234.28 362.08 L233.49 362.06 L232.70 362.04 L231.92 362.02 L231.13 362.00 L230.34 361.98 L229.55 361.96 L228.76 361.95 L227.98 361.93 L227.19 361.91 L226.40 361.89 L225.61 361.87 L224.83 361.85 L224.04 361.83 L223.25 361.81 L222.46 361.79 L221.68 361.76 L220.89 361.74 L220.10 361.71 L219.31 361.68 L218.53 361.65 L217.74 361.62 L216.95 361.59 L216.16 361.56 L215.38 361.52 L214.59 361.48 L213.80 361.44 L213.01 361.39 L212.22 361.35 L211.44 361.30 L210.65 361.24 L209.86 361.19 L209.07 361.14 L208.29 361.08 L207.50 361.02 L206.71 360.96 L205.92 360.90 L205.14 360.84 L204.35 360.78 L203.56 360.72 L202.77 360.66 L201.99 360.60 L201.20 360.54 L200.41 360.48 L199.62 360.41 L198.84 360.35 L198.05 360.28 L197.26 360.22 L196.47 360.15 L195.68 360.07 L194.90 360.00 L194.11 359.93 L193.32 359.85 L192.53 359.77 L191.75 359.69 L190.96 359.60 L190.17 359.52 L189.38 359.43 L188.60 359.34 L187.81 359.25 L187.02 359.15 L186.23 359.05 L185.45 358.95 L184.66 358.85 L183.87 358.74 L183.08 358.63 L182.30 358.52 L181.51 358.40 L180.72 358.28 L179.93 358.16 L179.14 358.03 L178.36 357.90 L177.57 357.77 L176.78 357.63 L175.99 357.49 L175.21 357.35 L174.42 357.20 L173.63 357.04 L172.84 356.88 L172.06 356.72 L171.27 356.55 L170.48 356.38 L169.69 356.20 L168.91 356.02 L168.12 355.83 L167.33 355.63 L166.54 355.43 L165.76 355.22 L164.97 355.01 L164.18 354.79 L163.39 354.56 L162.60 354.33 L161.82 354.08 L161.03 353.84 L160.24 353.58 L159.45 353.31 L158.67 353.04 L157.88 352.76 L157.09 352.47 L156.30 352.17 L155.52 351.86 L154.73 351.54 L153.94 351.21 L153.15 350.86 L152.37 350.51 L151.58 350.15 L150.79 349.77 L150.00 349.38 L149.22 348.98 L148.43 348.57 L147.64 348.14 L146.85 347.69 L146.06 347.23 L145.28 346.76 L144.49 346.27 L143.70 345.76 L142.91 345.24 L142.13 344.70 L141.34 344.14 L140.55 343.55 L139.76 342.95 L138.98 342.33 L138.19 341.69 L137.40 341.02 L136.61 340.33 L135.83 339.62 L135.04 338.88 L134.25 338.11 L133.46 337.31 L132.68 336.49 L131.89 335.64 L131.10 334.75 L130.31 333.84 L129.53 332.89 L128.74 331.90 L127.95 330.88 L127.16 329.82 L126.37 328.72 L125.59 327.58 L124.80 326.40 L124.01 325.17 L123.22 323.90 L122.44 322.57 L121.65 321.20 L120.86 319.78 L120.07 318.30 L119.29 316.77 L118.50 315.17 L117.71 313.52 L116.92 311.80 L116.14 310.01 L115.35 308.15 L114.56 306.23 L113.77 304.22 L112.99 302.14 L112.20 299.98 L111.41 297.73 L110.62 295.39 L109.83 292.96 L109.05 290.44 L108.26 287.81 L107.47 285.08 L106.68 282.24 L105.90 279.29 L105.11 276.22 L104.32 273.03 L103.53 269.71 L102.75 266.26 L101.96 262.67 L101.17 258.94 L100.38 255.05 L99.60 251.01 L98.81 246.81 L98.02 242.44 L97.23 237.90 L96.45 233.18 L95.66 228.26 L94.87 223.15 L94.08 217.84 L93.29 212.31 L92.51 206.57 L91.72 200.60 L90.93 194.39 L90.14 187.94 L89.36 181.23 L88.57 174.27 L87.78 167.03 L86.99 159.51 L86.21 151.70 L85.42 143.58 L84.63 135.16 L83.84 126.42 L83.06 117.34 L82.27 107.93 L81.48 98.16 L80.69 88.03 L79.91 77.53 L79.12 66.64 L78.33 55.35 L77.54 43.66 L76.75 31.56 L75.97 19.02" stroke-dashoffset="10.45"/>
<path d="M385.50 363.80 L384.71 363.81 L383.92 363.81 L383.14 363.82 L382.35 363.82 L381.56 363.82 L380.77 363.82 L379.99 363.82 L379.20 363.81 L378.41 363.81 L377.62 363.81 L376.84 363.80 L376.05 363.80 L375.26 363.79 L374.47 363.78 L373.69 363.78 L372.90 363.77 L372.11 363.77 L371.32 363.76 L370.54 363.75 L369.75 363.75 L368.96 363.74 L368.17 363.74 L367.38 363.73 L366.60 363.72 L365.81 363.72 L365.02 363.71 L364.23 363.70 L363.45 363.69 L362.66 363.69 L361.87 363.68 L361.08 363.67 L360.30 363.66 L359.51 363.65 L358.72 363.64 L357.93 363.63 L357.15 363.63 L356.36 363.62 L355.57 363.61 L354.78 363.60 L354.00 363.59 L353.21 363.58 L352.42 363.57 L351.63 363.56 L350.84 363.56 L350.06 363.55 L349.27 363.54 L348.48 363.53 L347.69 363.52 L346.91 363.52 L346.12 363.51 L345.33 363.50 L344.54 363.50 L343.76 363.49 L342.97 363.48 L342.18 363.48 L341.39 363.47 L340.61 363.46 L340.50 363.46"/>
<path d="M340.50 363.46 L339.82 363.45 L339.03 363.45 L338.24 363.44 L337.46 363.43 L336.67 363.43 L335.88 363.42 L335.09 363.41 L334.31 363.40 L333.52 363.40 L332.73 363.39 L331.94 363.38 L331.15 363.37 L330.37 363.37 L329.58 363.36 L328.79 363.36 L328.00 363.35 L327.22 363.34 L326.43 363.34 L325.64 363.33 L324.85 363.33 L324.07 363.32 L323.28 363.32 L322.49 363.31 L321.70 363.31 L320.92 363.30 L320.13 363.30 L319.34 363.30 L318.55 363.29 L317.77 363.29 L316.98 363.29 L316.19 363.28 L315.40 363.28 L314.61 363.28 L313.83 363.27 L313.04 363.27 L312.25 363.27 L311.46 363.26 L310.68 363.26 L309.89 363.26 L309.10 363.25 L308.31 363.25 L307.53 363.24 L306.74 363.24 L305.95 363.24 L305.16 363.23 L304.38 363.23 L303.59 363.22 L302.80 363.22 L302.01 363.21 L301.23 363.21 L300.44 363.20 L299.65 363.20 L298.86 363.19 L298.07 363.18 L297.29 363.18 L296.50 363.17 L295.71 363.17 L294.92 363.16 L294.14 363.15 L293.35 363.14 L292.56 363.13 L291.77 363.12 L290.99 363.11 L290.20 363.09 L289.41 363.07 L288.62 363.05 L287.84 363.03 L287.05 363.01 L286.26 362.99 L285.47 362.97 L284.69 362.95 L283.90 362.92 L283.11 362.90 L282.32 362.88 L281.53 362.85 L280.75 362.83 L279.96 362.81 L279.17 362.79 L278.38 362.77 L277.60 362.75 L276.81 362.73 L276.02 362.72 L275.23 362.70 L274.45 362.69 L273.66 362.68 L272.87 362.67 L272.08 362.65 L271.30 362.64 L270.51 362.63 L269.72 362.61 L268.93 362.60 L268.15 362.59 L267.36 362.57 L266.57 362.56 L265.78 362.54 L264.99 362.53 L264.21 362.51 L263.42 362.49 L262.63 362.48 L261.84 362.46 L261.06 362.44 L260.27 362.43 L259.48 362.41 L258.69 362.39 L257.91 362.37 L257.12 362.35 L256.33 362.33 L255.54 362.31 L254.76 362.29 L253.97 362.27 L253.18 362.24 L252.39 362.22 L251.61 362.18 L250.82 362.15 L250.03 362.11 L249.24 362.08 L248.45 362.04 L247.67 361.99 L246.88 361.95 L246.09 361.91 L245.30 361.86 L244.52 361.82 L243.73 361.77 L242.94 361.73 L242.15 361.68 L241.37 361.63 L240.58 361.59 L239.79 361.54 L239.00 361.50 L238.22 361.46 L237.43 361.42 L236.64 361.38 L235.85 361.34 L235.07 361.30 L234.28 361.27 L233.49 361.24 L232.70 361.21 L231.92 361.19 L231.13 361.17 L230.34 361.15 L229.55 361.13 L228.76 361.11 L227.98 361.09 L227.19 361.08 L226.40 361.06 L225.61 361.05 L224.83 361.03 L224.04 361.01 L223.25 360.99 L222.46 360.97 L221.68 360.95 L220.89 360.92 L220.10 360.89 L219.31 360.86 L218.53 360.82 L217.74 360.78 L216.95 360.73 L216.16 360.68 L215.38 360.63 L214.59 360.57 L213.80 360.50 L213.01 360.42 L212.22 360.34 L211.44 360.26 L210.65 360.17 L209.86 360.08 L209.07 359.98 L208.29 359.88 L207.50 359.78 L206.71 359.68 L205.92 359.58 L205.14 359.47 L204.35 359.37 L203.56 359.27 L202.77 359.17 L201.99 359.07 L201.20 358.98 L200.41 358.88 L199.62 358.79 L198.84 358.69 L198.05 358.59 L197.26 358.49 L196.47 358.38 L195.68 358.28 L194.90 358.17 L194.11 358.06 L193.32 357.94 L192.53 357.82 L191.75 357.70 L190.96 357.58 L190.17 357.45 L189.38 357.32 L188.60 357.19 L187.81 357.05 L187.02 356.91 L186.23 356.77 L185.45 356.62 L184.66 356.47 L183.87 356.31 L183.08 356.15 L182.30 355.99 L181.51 355.82 L180.72 355.65 L179.93 355.47 L179.14 355.29 L178.36 355.10 L177.57 354.91 L176.78 354.72 L175.99 354.52 L175.21 354.31 L174.42 354.10 L173.63 353.88 L172.84 353.65 L172.06 353.42 L171.27 353.19 L170.48 352.94 L169.69 352.69 L168.91 352.44 L168.12 352.17 L167.33 351.90 L166.54 351.62 L165.76 351.33 L164.97 351.04 L164.18 350.73 L163.39 350.42 L162.60 350.10 L161.82 349.77 L161.03 349.43 L160.24 349.08 L159.45 348.71 L158.67 348.34 L157.88 347.96 L157.09 347.57 L156.30 347.16 L155.52 346.74 L154.73 346.31 L153.94 345.86 L153.15 345.41 L152.37 344.93 L151.58 344.45 L150.79 343.94 L150.00 343.43 L149.22 342.89 L148.43 342.34 L147.64 341.77 L146.85 341.19 L146.06 340.58 L145.28 339.95 L144.49 339.31 L143.70 338.64 L142.91 337.95 L142.13 337.24 L141.34 336.51 L140.55 335.75 L139.76 334.96 L138.98 334.15 L138.19 333.31 L137.40 332.45 L136.61 331.55 L135.83 330.62 L135.04 329.66 L134.25 328.67 L133.46 327.64 L132.68 326.58 L131.89 325.48 L131.10 324.34 L130.31 323.16 L129.53 321.94 L128.74 320.67 L127.95 319.36 L127.16 318.00 L126.37 316.59 L125.59 315.13 L124.80 313.61 L124.01 312.04 L123.22 310.41 L122.44 308.72 L121.65 306.97 L120.86 305.15 L120.07 303.26 L119.29 301.30 L118.50 299.26 L117.71 297.15 L116.92 294.95 L116.14 292.67 L115.35 290.30 L114.56 287.83 L113.77 285.27 L112.99 282.61 L112.20 279.85 L111.41 276.97 L110.62 273.98 L109.83 270.86 L109.05 267.63 L108.26 264.26 L107.47 260.75 L106.68 257.10 L105.90 253.31 L105.11 249.35 L104.32 245.24 L103.53 240.95 L102.75 236.49 L101.96 231.84 L101.17 227.00 L100.38 221.96 L99.60 216.70 L98.81 211.23 L98.02 205.53 L97.23 199.58 L96.45 193.39 L95.66 186.93 L94.87 180.20 L94.08 173.19 L93.29 165.87 L92.51 158.25 L91.72 150.30 L90.93 142.02 L90.14 133.38 L89.36 124.38 L88.57 114.99 L87.78 105.20 L86.99 95.00 L86.21 84.36 L85.42 73.28 L84.63 61.72 L83.84 49.67 L83.06 37.11 L82.27 24.03 L82.01 19.54" stroke-dashoffset="13.95"/>
<path d="M385.50 363.70 L384.71 363.71 L383.92 363.72 L383.14 363.72 L382.35 363.73 L381.56 363.73 L380.77 363.72 L379.99 363.72 L379.20 363.71 L378.41 363.71 L377.62 363.70 L376.84 363.69 L376.05 363.68 L375.26 363.67 L374.47 363.66 L373.69 363.64 L372.90 363.63 L372.11 363.62 L371.32 363.61 L370.54 363.61 L369.75 363.60 L368.96 363.59 L368.17 363.58 L367.38 363.57 L366.60 363.57 L365.81 363.56 L365.02 363.55 L364.23 363.54 L363.45 363.53 L362.66 363.52 L361.87 363.51 L361.08 363.50 L360.30 363.49 L359.51 363.48 L358.72 363.47 L357.93 363.46 L357.15 363.45 L356.36 363.44 L355.57 363.43 L354.78 363.42 L354.00 363.41 L353.21 363.40 L352.42 363.39 L351.63 363.38 L350.84 363.37 L350.06 363.36 L349.27 363.35 L348.48 363.34 L347.69 363.33 L346.91 363.32 L346.12 363.31 L345.33 363.30 L344.54 363.29 L343.76 363.28 L342.97 363.27 L342.18 363.26 L341.39 363.25 L340.61 363.24 L340.50 363.24"/>
<path d="M340.50 363.24 L339.82 363.23 L339.03 363.22 L338.24 363.21 L337.46 363.20 L336.67 363.19 L335.88 363.18 L335.09 363.17 L334.31 363.15 L333.52 363.14 L332.73 363.13 L331.94 363.12 L331.15 363.11 L330.37 363.10 L329.58 363.09 L328.79 363.08 L328.00 363.07 L327.22 363.06 L326.43 363.05 L325.64 363.04 L324.85 363.04 L324.07 363.03 L323.28 363.02 L322.49 363.02 L321.70 363.01 L320.92 363.01 L320.13 363.00 L319.34 363.00 L318.55 362.99 L317.77 362.99 L316.98 362.98 L316.19 362.98 L315.40 362.98 L314.61 362.97 L313.83 362.97 L313.04 362.96 L312.25 362.96 L311.46 362.95 L310.68 362.95 L309.89 362.94 L309.10 362.94 L308.31 362.93 L307.53 362.92 L306.74 362.92 L305.95 362.91 L305.16 362.91 L304.38 362.90 L303.59 362.89 L302.80 362.89 L302.01 362.88 L301.23 362.87 L300.44 362.87 L299.65 362.86 L298.86 362.85 L298.07 362.84 L297.29 362.84 L296.50 362.83 L295.71 362.82 L294.92 362.81 L294.14 362.80 L293.35 362.79 L292.56 362.78 L291.77 362.77 L290.99 362.76 L290.20 362.75 L289.41 362.74 L288.62 362.73 L287.84 362.72 L287.05 362.71 L286.26 362.70 L285.47 362.68 L284.69 362.67 L283.90 362.66 L283.11 362.65 L282.32 362.63 L281.53 362.62 L280.75 362.61 L279.96 362.59 L279.17 362.58 L278.38 362.56 L277.60 362.55 L276.81 362.53 L276.02 362.52 L275.23 362.50 L274.45 362.49 L273.66 362.47 L272.87 362.46 L272.08 362.44 L271.30 362.43 L270.51 362.41 L269.72 362.39 L268.93 362.37 L268.15 362.36 L267.36 362.34 L266.57 362.32 L265.78 362.30 L264.99 362.28 L264.21 362.26 L263.42 362.24 L262.63 362.22 L261.84 362.20 L261.06 362.18 L260.27 362.16 L259.48 362.14 L258.69 362.11 L257.91 362.09 L257.12 362.07 L256.33 362.04 L255.54 362.02 L254.76 361.99 L253.97 361.96 L253.18 361.93 L252.39 361.89 L251.61 361.86 L250.82 361.81 L250.03 361.77 L249.24 361.72 L248.45 361.68 L247.67 361.63 L246.88 361.58 L246.09 361.52 L245.30 361.47 L244.52 361.42 L243.73 361.36 L242.94 361.31 L242.15 361.25 L241.37 361.20 L240.58 361.14 L239.79 361.09 L239.00 361.04 L238.22 360.99 L237.43 360.94 L236.64 360.89 L235.85 360.85 L235.07 360.80 L234.28 360.76 L233.49 360.73 L232.70 360.70 L231.92 360.67 L231.13 360.64 L230.34 360.62 L229.55 360.60 L228.76 360.58 L227.98 360.56 L227.19 360.55 L226.40 360.53 L225.61 360.51 L224.83 360.49 L224.04 360.47 L223.25 360.45 L222.46 360.43 L221.68 360.40 L220.89 360.37 L220.10 360.34 L219.31 360.30 L218.53 360.26 L217.74 360.21 L216.95 360.16 L216.16 360.10 L215.38 360.03 L214.59 359.96 L213.80 359.88 L213.01 359.79 L212.22 359.70 L211.44 359.59 L210.65 359.49 L209.86 359.38 L209.07 359.26 L208.29 359.14 L207.50 359.02 L206.71 358.90 L205.92 358.77 L205.14 358.65 L204.35 358.53 L203.56 358.41 L202.77 358.29 L201.99 358.18 L201.20 358.06 L200.41 357.96 L199.62 357.85 L198.84 357.73 L198.05 357.62 L197.26 357.50 L196.47 357.37 L195.68 357.25 L194.90 357.12 L194.11 356.99 L193.32 356.86 L192.53 356.72 L191.75 356.58 L190.96 356.44 L190.17 356.29 L189.38 356.14 L188.60 355.98 L187.81 355.82 L187.02 355.66 L186.23 355.49 L185.45 355.32 L184.66 355.15 L183.87 354.97 L183.08 354.78 L182.30 354.60 L181.51 354.40 L180.72 354.20 L179.93 354.00 L179.14 353.79 L178.36 353.58 L177.57 353.36 L176.78 353.13 L175.99 352.90 L175.21 352.66 L174.42 352.42 L173.63 352.17 L172.84 351.91 L172.06 351.65 L171.27 351.38 L170.48 351.10 L169.69 350.81 L168.91 350.52 L168.12 350.22 L167.33 349.91 L166.54 349.59 L165.76 349.26 L164.97 348.92 L164.18 348.58 L163.39 348.22 L162.60 347.85 L161.82 347.48 L161.03 347.09 L160.24 346.69 L159.45 346.28 L158.67 345.86 L157.88 345.43 L157.09 344.98 L156.30 344.52 L155.52 344.05 L154.73 343.56 L153.94 343.06 L153.15 342.54 L152.37 342.01 L151.58 341.46 L150.79 340.89 L150.00 340.31 L149.22 339.71 L148.43 339.09 L147.64 338.45 L146.85 337.79 L146.06 337.11 L145.28 336.41 L144.49 335.68 L143.70 334.94 L142.91 334.17 L142.13 333.37 L141.34 332.55 L140.55 331.70 L139.76 330.83 L138.98 329.92 L138.19 328.99 L137.40 328.02 L136.61 327.02 L135.83 325.99 L135.04 324.92 L134.25 323.82 L133.46 322.68 L132.68 321.50 L131.89 320.27 L131.10 319.01 L130.31 317.70 L129.53 316.35 L128.74 314.95 L127.95 313.50 L127.16 311.99 L126.37 310.43 L125.59 308.82 L124.80 307.15 L124.01 305.42 L123.22 303.62 L122.44 301.76 L121.65 299.83 L120.86 297.82 L120.07 295.74 L119.29 293.59 L118.50 291.35 L117.71 289.03 L116.92 286.62 L116.14 284.12 L115.35 281.52 L114.56 278.82 L113.77 276.02 L112.99 273.10 L112.20 270.08 L111.41 266.93 L110.62 263.66 L109.83 260.27 L109.05 256.73 L108.26 253.06 L107.47 249.24 L106.68 245.26 L105.90 241.12 L105.11 236.82 L104.32 232.34 L103.53 227.68 L102.75 222.83 L101.96 217.78 L101.17 212.53 L100.38 207.05 L99.60 201.35 L98.81 195.41 L98.02 189.23 L97.23 182.79 L96.45 176.08 L95.66 169.09 L94.87 161.81 L94.08 154.22 L93.29 146.32 L92.51 138.08 L91.72 129.49 L90.93 120.55 L90.14 111.22 L89.36 101.51 L88.57 91.38 L87.78 80.83 L86.99 69.83 L86.21 58.37 L85.42 46.43 L84.63 33.99 L83.84 21.02 L83.58 16.58" stroke-dashoffset="8.65"/>
</g>
<path d="M175.47 363.5 v-11.4 M201.72 363.5 v-11.4" stroke="#000" stroke-width="1" fill="none"/>
<path d="M149.0 363.5 V22.5" stroke="#000" stroke-width="2.25" fill="none" stroke-dasharray="5.4 3.773" stroke-dashoffset="-2.6"/>
<path d="M209.3 56.65 H241.0" stroke="#0000ff" stroke-width="1.9"/>
<path d="M209.2 107.6 H240.8" stroke="#ff0000" stroke-width="1.9" stroke-dasharray="14 3.7"/>
<path transform="translate(246.78 60.00) translate(0.00 0)" d="M2.01 -8.60 L2.01 0.00 M2.41 -8.60 L2.41 0.00 M7.22 -8.60 L7.22 0.00 M7.62 -8.60 L7.62 0.00 M0.80 -8.60 L3.61 -8.60 M6.02 -8.60 L8.83 -8.60 M2.41 -4.50 L7.22 -4.50 M0.80 0.00 L3.61 0.00 M6.02 0.00 L8.83 0.00 M11.24 -3.28 L16.05 -3.28 L16.05 -4.09 L15.65 -4.91 L15.25 -5.32 L14.45 -5.73 L13.24 -5.73 L12.04 -5.32 L11.24 -4.50 L10.84 -3.28 L10.84 -2.46 L11.24 -1.23 L12.04 -0.41 L13.24 0.00 L14.05 0.00 L15.25 -0.41 L16.05 -1.23 M15.65 -3.28 L15.65 -4.50 L15.25 -5.32 M13.24 -5.73 L12.44 -5.32 L11.64 -4.50 L11.24 -3.28 L11.24 -2.46 L11.64 -1.23 L12.44 -0.41 L13.24 0.00 M19.26 -5.73 L19.26 0.00 M19.66 -5.73 L19.66 0.00 M19.66 -3.28 L20.06 -4.50 L20.87 -5.32 L21.67 -5.73 L22.87 -5.73 L23.28 -5.32 L23.28 -4.91 L22.87 -4.50 L22.47 -4.91 L22.87 -5.32 M18.06 -5.73 L19.66 -5.73 M18.06 0.00 L20.87 0.00 M26.08 -5.73 L26.08 0.00 M26.49 -5.73 L26.49 0.00 M26.49 -4.50 L27.29 -5.32 L28.49 -5.73 L29.29 -5.73 L30.50 -5.32 L30.90 -4.50 L30.90 0.00 M29.29 -5.73 L30.10 -5.32 L30.50 -4.50 L30.50 0.00 M24.88 -5.73 L26.49 -5.73 M24.88 0.00 L27.69 0.00 M29.29 0.00 L32.10 0.00 M38.93 -5.73 L38.93 2.87 M39.33 -5.73 L39.33 2.87 M38.93 -4.50 L38.12 -5.32 L37.32 -5.73 L36.52 -5.73 L35.31 -5.32 L34.51 -4.50 L34.11 -3.28 L34.11 -2.46 L34.51 -1.23 L35.31 -0.41 L36.52 0.00 L37.32 0.00 L38.12 -0.41 L38.93 -1.23 M36.52 -5.73 L35.72 -5.32 L34.91 -4.50 L34.51 -3.28 L34.51 -2.46 L34.91 -1.23 L35.72 -0.41 L36.52 0.00 M37.72 2.87 L40.53 2.87 M42.94 -5.73 L42.94 -1.23 L43.34 -0.41 L44.54 0.00 L45.35 0.00 L46.55 -0.41 L47.35 -1.23 M43.34 -5.73 L43.34 -1.23 L43.74 -0.41 L44.54 0.00 M47.35 -5.73 L47.35 0.00 M47.75 -5.73 L47.75 0.00 M41.74 -5.73 L43.34 -5.73 M46.15 -5.73 L47.75 -5.73 M47.35 0.00 L48.96 0.00 M51.77 -8.60 L51.37 -8.19 L51.77 -7.78 L52.17 -8.19 L51.77 -8.60 M51.77 -5.73 L51.77 0.00 M52.17 -5.73 L52.17 0.00 M50.56 -5.73 L52.17 -5.73 M50.56 0.00 L53.37 0.00 M59.39 -4.91 L59.79 -5.73 L59.79 -4.09 L59.39 -4.91 L58.99 -5.32 L58.19 -5.73 L56.58 -5.73 L55.78 -5.32 L55.38 -4.91 L55.38 -4.09 L55.78 -3.69 L56.58 -3.28 L58.59 -2.46 L59.39 -2.05 L59.79 -1.64 M55.38 -4.50 L55.78 -4.09 L56.58 -3.69 L58.59 -2.87 L59.39 -2.46 L59.79 -2.05 L59.79 -0.82 L59.39 -0.41 L58.59 0.00 L56.98 0.00 L56.18 -0.41 L55.78 -0.82 L55.38 -1.64 L55.38 0.00 L55.78 -0.82 M63.00 -8.60 L63.00 -1.64 L63.41 -0.41 L64.21 0.00 L65.01 0.00 L65.81 -0.41 L66.21 -1.23 M63.41 -8.60 L63.41 -1.64 L63.81 -0.41 L64.21 0.00 M61.80 -5.73 L65.01 -5.73" fill="none" stroke="#0000ff" stroke-width="1.0" stroke-linecap="round" stroke-linejoin="round" stroke-opacity="1.0"/>
<path transform="translate(321.20 60.00) translate(0.00 0)" d="M8.74 -5.32 L8.32 -4.91 L8.74 -4.50 L9.15 -4.91 L9.15 -5.32 L8.74 -5.73 L8.32 -5.73 L7.90 -5.32 L7.49 -4.50 L6.66 -2.46 L5.82 -1.23 L4.99 -0.41 L4.16 0.00 L2.91 0.00 L1.66 -0.41 L1.25 -1.23 L1.25 -2.46 L1.66 -3.28 L4.16 -4.91 L4.99 -5.73 L5.41 -6.55 L5.41 -7.37 L4.99 -8.19 L4.16 -8.60 L3.33 -8.19 L2.91 -7.37 L2.91 -6.55 L3.33 -5.32 L4.16 -4.09 L6.24 -1.23 L7.07 -0.41 L8.32 0.00 L8.74 0.00 L9.15 -0.41 L9.15 -0.82 M2.91 0.00 L2.08 -0.41 L1.66 -1.23 L1.66 -2.46 L2.08 -3.28 L2.91 -4.09 M2.91 -6.55 L3.33 -5.73 L6.66 -1.23 L7.49 -0.41 L8.32 0.00" fill="none" stroke="#0000ff" stroke-width="1.0" stroke-linecap="round" stroke-linejoin="round" stroke-opacity="1.0"/>
<path transform="translate(246.78 80.20) translate(0.00 0)" d="M6.42 -7.37 L6.82 -8.60 L6.82 -6.14 L6.42 -7.37 L5.62 -8.19 L4.41 -8.60 L3.21 -8.60 L2.01 -8.19 L1.20 -7.37 L1.20 -6.55 L1.60 -5.73 L2.01 -5.32 L2.81 -4.91 L5.22 -4.09 L6.02 -3.69 L6.82 -2.87 M1.20 -6.55 L2.01 -5.73 L2.81 -5.32 L5.22 -4.50 L6.02 -4.09 L6.42 -3.69 L6.82 -2.87 L6.82 -1.23 L6.02 -0.41 L4.81 0.00 L3.61 0.00 L2.41 -0.41 L1.60 -1.23 L1.20 -2.46 L1.20 0.00 L1.60 -1.23 M10.03 -5.73 L10.03 2.87 M10.43 -5.73 L10.43 2.87 M10.43 -4.50 L11.23 -5.32 L12.04 -5.73 L12.84 -5.73 L14.04 -5.32 L14.84 -4.50 L15.25 -3.28 L15.25 -2.46 L14.84 -1.23 L14.04 -0.41 L12.84 0.00 L12.04 0.00 L11.23 -0.41 L10.43 -1.23 M12.84 -5.73 L13.64 -5.32 L14.44 -4.50 L14.84 -3.28 L14.84 -2.46 L14.44 -1.23 L13.64 -0.41 L12.84 0.00 M8.83 -5.73 L10.43 -5.73 M8.83 2.87 L11.63 2.87 M18.46 -5.73 L18.46 0.00 M18.86 -5.73 L18.86 0.00 M18.86 -3.28 L19.26 -4.50 L20.06 -5.32 L20.86 -5.73 L22.07 -5.73 L22.47 -5.32 L22.47 -4.91 L22.07 -4.50 L21.66 -4.91 L22.07 -5.32 M17.25 -5.73 L18.86 -5.73 M17.25 0.00 L20.06 0.00 M25.28 -8.60 L24.87 -8.19 L25.28 -7.78 L25.68 -8.19 L25.28 -8.60 M25.28 -5.73 L25.28 0.00 M25.68 -5.73 L25.68 0.00 M24.07 -5.73 L25.68 -5.73 M24.07 0.00 L26.88 0.00 M29.69 -5.73 L29.69 0.00 M30.09 -5.73 L30.09 0.00 M30.09 -4.50 L30.89 -5.32 L32.10 -5.73 L32.90 -5.73 L34.10 -5.32 L34.50 -4.50 L34.50 0.00 M32.90 -5.73 L33.70 -5.32 L34.10 -4.50 L34.10 0.00 M28.49 -5.73 L30.09 -5.73 M28.49 0.00 L31.29 0.00 M32.90 0.00 L35.71 0.00 M39.72 -5.73 L38.92 -5.32 L38.52 -4.91 L38.11 -4.09 L38.11 -3.28 L38.52 -2.46 L38.92 -2.05 L39.72 -1.64 L40.52 -1.64 L41.32 -2.05 L41.72 -2.46 L42.13 -3.28 L42.13 -4.09 L41.72 -4.91 L41.32 -5.32 L40.52 -5.73 L39.72 -5.73 M38.92 -5.32 L38.52 -4.50 L38.52 -2.87 L38.92 -2.05 M41.32 -2.05 L41.72 -2.87 L41.72 -4.50 L41.32 -5.32 M41.72 -4.91 L42.13 -5.32 L42.93 -5.73 L42.93 -5.32 L42.13 -5.32 M38.52 -2.46 L38.11 -2.05 L37.71 -1.23 L37.71 -0.82 L38.11 0.00 L39.32 0.41 L41.32 0.41 L42.53 0.82 L42.93 1.23 M37.71 -0.82 L38.11 -0.41 L39.32 0.00 L41.32 0.00 L42.53 0.41 L42.93 1.23 L42.93 1.64 L42.53 2.46 L41.32 2.87 L38.92 2.87 L37.71 2.46 L37.31 1.64 L37.31 1.23 L37.71 0.41 L38.92 0.00 M45.74 -3.28 L50.55 -3.28 L50.55 -4.09 L50.15 -4.91 L49.75 -5.32 L48.95 -5.73 L47.74 -5.73 L46.54 -5.32 L45.74 -4.50 L45.34 -3.28 L45.34 -2.46 L45.74 -1.23 L46.54 -0.41 L47.74 0.00 L48.55 0.00 L49.75 -0.41 L50.55 -1.23 M50.15 -3.28 L50.15 -4.50 L49.75 -5.32 M47.74 -5.73 L46.94 -5.32 L46.14 -4.50 L45.74 -3.28 L45.74 -2.46 L46.14 -1.23 L46.94 -0.41 L47.74 0.00 M53.76 -8.60 L53.76 0.00 M54.16 -8.60 L54.16 0.00 M52.56 -8.60 L54.16 -8.60 M52.56 0.00 L55.37 0.00" fill="none" stroke="#0000ff" stroke-width="1.0" stroke-linecap="round" stroke-linejoin="round" stroke-opacity="1.0"/>
<path transform="translate(309.90 80.20) translate(0.00 0)" d="M4.55 -10.24 L3.72 -9.42 L2.89 -8.19 L2.07 -6.55 L1.65 -4.50 L1.65 -2.87 L2.07 -0.82 L2.89 0.82 L3.72 2.05 L4.55 2.87 M3.72 -9.42 L2.89 -7.78 L2.48 -6.55 L2.07 -4.50 L2.07 -2.87 L2.48 -0.82 L2.89 0.41 L3.72 2.05 M7.44 -6.96 L7.85 -6.55 L7.44 -6.14 L7.03 -6.55 L7.03 -6.96 L7.44 -7.78 L7.85 -8.19 L9.09 -8.60 L10.75 -8.60 L11.99 -8.19 L12.40 -7.78 L12.82 -6.96 L12.82 -6.14 L12.40 -5.32 L11.16 -4.50 L9.09 -3.69 L8.27 -3.28 L7.44 -2.46 L7.03 -1.23 L7.03 0.00 M10.75 -8.60 L11.58 -8.19 L11.99 -7.78 L12.40 -6.96 L12.40 -6.14 L11.99 -5.32 L10.75 -4.50 L9.09 -3.69 M7.03 -0.82 L7.44 -1.23 L8.27 -1.23 L10.33 -0.41 L11.58 -0.41 L12.40 -0.82 L12.82 -1.23 M8.27 -1.23 L10.33 0.00 L11.99 0.00 L12.40 -0.41 L12.82 -1.23 L12.82 -2.05 M17.78 -8.60 L16.54 -8.19 L15.71 -6.96 L15.30 -4.91 L15.30 -3.69 L15.71 -1.64 L16.54 -0.41 L17.78 0.00 L18.60 0.00 L19.84 -0.41 L20.67 -1.64 L21.08 -3.69 L21.08 -4.91 L20.67 -6.96 L19.84 -8.19 L18.60 -8.60 L17.78 -8.60 M17.78 -8.60 L16.95 -8.19 L16.54 -7.78 L16.12 -6.96 L15.71 -4.91 L15.71 -3.69 L16.12 -1.64 L16.54 -0.82 L16.95 -0.41 L17.78 0.00 M18.60 0.00 L19.43 -0.41 L19.84 -0.82 L20.26 -1.64 L20.67 -3.69 L20.67 -4.91 L20.26 -6.96 L19.84 -7.78 L19.43 -8.19 L18.60 -8.60 M26.04 -8.60 L24.80 -8.19 L23.98 -6.96 L23.56 -4.91 L23.56 -3.69 L23.98 -1.64 L24.80 -0.41 L26.04 0.00 L26.87 0.00 L28.11 -0.41 L28.94 -1.64 L29.35 -3.69 L29.35 -4.91 L28.94 -6.96 L28.11 -8.19 L26.87 -8.60 L26.04 -8.60 M26.04 -8.60 L25.22 -8.19 L24.80 -7.78 L24.39 -6.96 L23.98 -4.91 L23.98 -3.69 L24.39 -1.64 L24.80 -0.82 L25.22 -0.41 L26.04 0.00 M26.87 0.00 L27.70 -0.41 L28.11 -0.82 L28.52 -1.64 L28.94 -3.69 L28.94 -4.91 L28.52 -6.96 L28.11 -7.78 L27.70 -8.19 L26.87 -8.60 M32.25 -6.96 L32.66 -6.55 L32.25 -6.14 L31.83 -6.55 L31.83 -6.96 L32.25 -7.78 L32.66 -8.19 L33.90 -8.60 L35.55 -8.60 L36.79 -8.19 L37.21 -7.37 L37.21 -6.14 L36.79 -5.32 L35.55 -4.91 L34.31 -4.91 M35.55 -8.60 L36.38 -8.19 L36.79 -7.37 L36.79 -6.14 L36.38 -5.32 L35.55 -4.91 M35.55 -4.91 L36.38 -4.50 L37.21 -3.69 L37.62 -2.87 L37.62 -1.64 L37.21 -0.82 L36.79 -0.41 L35.55 0.00 L33.90 0.00 L32.66 -0.41 L32.25 -0.82 L31.83 -1.64 L31.83 -2.05 L32.25 -2.46 L32.66 -2.05 L32.25 -1.64 M36.79 -4.09 L37.21 -2.87 L37.21 -1.64 L36.79 -0.82 L36.38 -0.41 L35.55 0.00 M40.10 -10.24 L40.93 -9.42 L41.75 -8.19 L42.58 -6.55 L42.99 -4.50 L42.99 -2.87 L42.58 -0.82 L41.75 0.82 L40.93 2.05 L40.10 2.87 M40.93 -9.42 L41.75 -7.78 L42.17 -6.55 L42.58 -4.50 L42.58 -2.87 L42.17 -0.82 L41.75 0.41 L40.93 2.05" fill="none" stroke="#0000ff" stroke-width="1.0" stroke-linecap="round" stroke-linejoin="round" stroke-opacity="1.0"/>
<path transform="translate(246.78 111.50) translate(0.00 0)" d="M2.04 -8.60 L2.04 0.00 M2.45 -8.60 L2.45 0.00 M7.35 -8.60 L7.35 0.00 M7.76 -8.60 L7.76 0.00 M0.82 -8.60 L3.68 -8.60 M6.13 -8.60 L8.99 -8.60 M2.45 -4.50 L7.35 -4.50 M0.82 0.00 L3.68 0.00 M6.13 0.00 L8.99 0.00 M13.48 -5.73 L12.26 -5.32 L11.44 -4.50 L11.03 -3.28 L11.03 -2.46 L11.44 -1.23 L12.26 -0.41 L13.48 0.00 L14.30 0.00 L15.52 -0.41 L16.34 -1.23 L16.75 -2.46 L16.75 -3.28 L16.34 -4.50 L15.52 -5.32 L14.30 -5.73 L13.48 -5.73 M13.48 -5.73 L12.66 -5.32 L11.85 -4.50 L11.44 -3.28 L11.44 -2.46 L11.85 -1.23 L12.66 -0.41 L13.48 0.00 M14.30 0.00 L15.11 -0.41 L15.93 -1.23 L16.34 -2.46 L16.34 -3.28 L15.93 -4.50 L15.11 -5.32 L14.30 -5.73 M20.02 -5.73 L20.02 2.87 M20.42 -5.73 L20.42 2.87 M20.42 -4.50 L21.24 -5.32 L22.06 -5.73 L22.88 -5.73 L24.10 -5.32 L24.92 -4.50 L25.33 -3.28 L25.33 -2.46 L24.92 -1.23 L24.10 -0.41 L22.88 0.00 L22.06 0.00 L21.24 -0.41 L20.42 -1.23 M22.88 -5.73 L23.69 -5.32 L24.51 -4.50 L24.92 -3.28 L24.92 -2.46 L24.51 -1.23 L23.69 -0.41 L22.88 0.00 M18.79 -5.73 L20.42 -5.73 M18.79 2.87 L21.65 2.87 M28.59 -8.60 L28.59 0.00 M29.00 -8.60 L29.00 0.00 M33.09 -5.73 L29.00 -1.64 M31.05 -3.28 L33.50 0.00 M30.64 -3.28 L33.09 0.00 M27.37 -8.60 L29.00 -8.60 M31.86 -5.73 L34.31 -5.73 M27.37 0.00 L30.23 0.00 M31.86 0.00 L34.31 0.00 M37.17 -8.60 L36.77 -8.19 L37.17 -7.78 L37.58 -8.19 L37.17 -8.60 M37.17 -5.73 L37.17 0.00 M37.58 -5.73 L37.58 0.00 M35.95 -5.73 L37.58 -5.73 M35.95 0.00 L38.81 0.00 M41.67 -5.73 L41.67 0.00 M42.08 -5.73 L42.08 0.00 M42.08 -4.50 L42.89 -5.32 L44.12 -5.73 L44.93 -5.73 L46.16 -5.32 L46.57 -4.50 L46.57 0.00 M44.93 -5.73 L45.75 -5.32 L46.16 -4.50 L46.16 0.00 M40.44 -5.73 L42.08 -5.73 M40.44 0.00 L43.30 0.00 M44.93 0.00 L47.79 0.00 M53.92 -4.91 L54.33 -5.73 L54.33 -4.09 L53.92 -4.91 L53.51 -5.32 L52.70 -5.73 L51.06 -5.73 L50.25 -5.32 L49.84 -4.91 L49.84 -4.09 L50.25 -3.69 L51.06 -3.28 L53.10 -2.46 L53.92 -2.05 L54.33 -1.64 M49.84 -4.50 L50.25 -4.09 L51.06 -3.69 L53.10 -2.87 L53.92 -2.46 L54.33 -2.05 L54.33 -0.82 L53.92 -0.41 L53.10 0.00 L51.47 0.00 L50.65 -0.41 L50.25 -0.82 L49.84 -1.64 L49.84 0.00 L50.25 -0.82" fill="none" stroke="#ff0000" stroke-width="1.0" stroke-linecap="round" stroke-linejoin="round" stroke-opacity="1.0"/>
<path transform="translate(308.60 111.50) translate(0.00 0)" d="M8.74 -5.32 L8.32 -4.91 L8.74 -4.50 L9.15 -4.91 L9.15 -5.32 L8.74 -5.73 L8.32 -5.73 L7.90 -5.32 L7.49 -4.50 L6.66 -2.46 L5.82 -1.23 L4.99 -0.41 L4.16 0.00 L2.91 0.00 L1.66 -0.41 L1.25 -1.23 L1.25 -2.46 L1.66 -3.28 L4.16 -4.91 L4.99 -5.73 L5.41 -6.55 L5.41 -7.37 L4.99 -8.19 L4.16 -8.60 L3.33 -8.19 L2.91 -7.37 L2.91 -6.55 L3.33 -5.32 L4.16 -4.09 L6.24 -1.23 L7.07 -0.41 L8.32 0.00 L8.74 0.00 L9.15 -0.41 L9.15 -0.82 M2.91 0.00 L2.08 -0.41 L1.66 -1.23 L1.66 -2.46 L2.08 -3.28 L2.91 -4.09 M2.91 -6.55 L3.33 -5.73 L6.66 -1.23 L7.49 -0.41 L8.32 0.00" fill="none" stroke="#ff0000" stroke-width="1.0" stroke-linecap="round" stroke-linejoin="round" stroke-opacity="1.0"/>
<path transform="translate(247.08 131.50) translate(0.00 0)" d="M2.01 -8.60 L2.01 0.00 M2.41 -8.60 L2.41 0.00 M0.80 -8.60 L5.62 -8.60 L6.83 -8.19 L7.23 -7.78 L7.63 -6.96 L7.63 -6.14 L7.23 -5.32 L6.83 -4.91 L5.62 -4.50 M5.62 -8.60 L6.43 -8.19 L6.83 -7.78 L7.23 -6.96 L7.23 -6.14 L6.83 -5.32 L6.43 -4.91 L5.62 -4.50 M2.41 -4.50 L5.62 -4.50 L6.83 -4.09 L7.23 -3.69 L7.63 -2.87 L7.63 -1.64 L7.23 -0.82 L6.83 -0.41 L5.62 0.00 L0.80 0.00 M5.62 -4.50 L6.43 -4.09 L6.83 -3.69 L7.23 -2.87 L7.23 -1.64 L6.83 -0.82 L6.43 -0.41 L5.62 0.00 M10.44 -3.28 L15.26 -3.28 L15.26 -4.09 L14.86 -4.91 L14.46 -5.32 L13.65 -5.73 L12.45 -5.73 L11.24 -5.32 L10.44 -4.50 L10.04 -3.28 L10.04 -2.46 L10.44 -1.23 L11.24 -0.41 L12.45 0.00 L13.25 0.00 L14.46 -0.41 L15.26 -1.23 M14.86 -3.28 L14.86 -4.50 L14.46 -5.32 M12.45 -5.73 L11.65 -5.32 L10.84 -4.50 L10.44 -3.28 L10.44 -2.46 L10.84 -1.23 L11.65 -0.41 L12.45 0.00 M18.47 -4.91 L18.47 -4.50 L18.07 -4.50 L18.07 -4.91 L18.47 -5.32 L19.28 -5.73 L20.88 -5.73 L21.69 -5.32 L22.09 -4.91 L22.49 -4.09 L22.49 -1.23 L22.89 -0.41 L23.29 0.00 M22.09 -4.91 L22.09 -1.23 L22.49 -0.41 L23.29 0.00 L23.69 0.00 M22.09 -4.09 L21.69 -3.69 L19.28 -3.28 L18.07 -2.87 L17.67 -2.05 L17.67 -1.23 L18.07 -0.41 L19.28 0.00 L20.48 0.00 L21.28 -0.41 L22.09 -1.23 M19.28 -3.28 L18.47 -2.87 L18.07 -2.05 L18.07 -1.23 L18.47 -0.41 L19.28 0.00 M30.52 -4.50 L30.12 -4.09 L30.52 -3.69 L30.92 -4.09 L30.92 -4.50 L30.12 -5.32 L29.32 -5.73 L28.11 -5.73 L26.91 -5.32 L26.10 -4.50 L25.70 -3.28 L25.70 -2.46 L26.10 -1.23 L26.91 -0.41 L28.11 0.00 L28.92 0.00 L30.12 -0.41 L30.92 -1.23 M28.11 -5.73 L27.31 -5.32 L26.51 -4.50 L26.10 -3.28 L26.10 -2.46 L26.51 -1.23 L27.31 -0.41 L28.11 0.00 M35.74 -5.73 L34.54 -5.32 L33.73 -4.50 L33.33 -3.28 L33.33 -2.46 L33.73 -1.23 L34.54 -0.41 L35.74 0.00 L36.55 0.00 L37.75 -0.41 L38.55 -1.23 L38.96 -2.46 L38.96 -3.28 L38.55 -4.50 L37.75 -5.32 L36.55 -5.73 L35.74 -5.73 M35.74 -5.73 L34.94 -5.32 L34.14 -4.50 L33.73 -3.28 L33.73 -2.46 L34.14 -1.23 L34.94 -0.41 L35.74 0.00 M36.55 0.00 L37.35 -0.41 L38.15 -1.23 L38.55 -2.46 L38.55 -3.28 L38.15 -4.50 L37.35 -5.32 L36.55 -5.73 M42.17 -5.73 L42.17 0.00 M42.57 -5.73 L42.57 0.00 M42.57 -4.50 L43.37 -5.32 L44.58 -5.73 L45.38 -5.73 L46.59 -5.32 L46.99 -4.50 L46.99 0.00 M45.38 -5.73 L46.18 -5.32 L46.59 -4.50 L46.59 0.00 M46.99 -4.50 L47.79 -5.32 L49.00 -5.73 L49.80 -5.73 L51.00 -5.32 L51.40 -4.50 L51.40 0.00 M49.80 -5.73 L50.60 -5.32 L51.00 -4.50 L51.00 0.00 M40.96 -5.73 L42.57 -5.73 M40.96 0.00 L43.77 0.00 M45.38 0.00 L48.19 0.00 M49.80 0.00 L52.61 0.00" fill="none" stroke="#ff0000" stroke-width="1.0" stroke-linecap="round" stroke-linejoin="round" stroke-opacity="1.0"/>
<path transform="translate(307.46 131.50) translate(0.00 0)" d="M4.52 -10.24 L3.70 -9.42 L2.88 -8.19 L2.05 -6.55 L1.64 -4.50 L1.64 -2.87 L2.05 -0.82 L2.88 0.82 L3.70 2.05 L4.52 2.87 M3.70 -9.42 L2.88 -7.78 L2.47 -6.55 L2.05 -4.50 L2.05 -2.87 L2.47 -0.82 L2.88 0.41 L3.70 2.05 M7.40 -6.96 L7.81 -6.55 L7.40 -6.14 L6.99 -6.55 L6.99 -6.96 L7.40 -7.78 L7.81 -8.19 L9.04 -8.60 L10.69 -8.60 L11.92 -8.19 L12.33 -7.78 L12.74 -6.96 L12.74 -6.14 L12.33 -5.32 L11.10 -4.50 L9.04 -3.69 L8.22 -3.28 L7.40 -2.46 L6.99 -1.23 L6.99 0.00 M10.69 -8.60 L11.51 -8.19 L11.92 -7.78 L12.33 -6.96 L12.33 -6.14 L11.92 -5.32 L10.69 -4.50 L9.04 -3.69 M6.99 -0.82 L7.40 -1.23 L8.22 -1.23 L10.27 -0.41 L11.51 -0.41 L12.33 -0.82 L12.74 -1.23 M8.22 -1.23 L10.27 0.00 L11.92 0.00 L12.33 -0.41 L12.74 -1.23 L12.74 -2.05 M17.67 -8.60 L16.44 -8.19 L15.62 -6.96 L15.21 -4.91 L15.21 -3.69 L15.62 -1.64 L16.44 -0.41 L17.67 0.00 L18.49 0.00 L19.73 -0.41 L20.55 -1.64 L20.96 -3.69 L20.96 -4.91 L20.55 -6.96 L19.73 -8.19 L18.49 -8.60 L17.67 -8.60 M17.67 -8.60 L16.85 -8.19 L16.44 -7.78 L16.03 -6.96 L15.62 -4.91 L15.62 -3.69 L16.03 -1.64 L16.44 -0.82 L16.85 -0.41 L17.67 0.00 M18.49 0.00 L19.32 -0.41 L19.73 -0.82 L20.14 -1.64 L20.55 -3.69 L20.55 -4.91 L20.14 -6.96 L19.73 -7.78 L19.32 -8.19 L18.49 -8.60 M25.89 -8.60 L24.66 -8.19 L23.84 -6.96 L23.43 -4.91 L23.43 -3.69 L23.84 -1.64 L24.66 -0.41 L25.89 0.00 L26.71 0.00 L27.95 -0.41 L28.77 -1.64 L29.18 -3.69 L29.18 -4.91 L28.77 -6.96 L27.95 -8.19 L26.71 -8.60 L25.89 -8.60 M25.89 -8.60 L25.07 -8.19 L24.66 -7.78 L24.25 -6.96 L23.84 -4.91 L23.84 -3.69 L24.25 -1.64 L24.66 -0.82 L25.07 -0.41 L25.89 0.00 M26.71 0.00 L27.54 -0.41 L27.95 -0.82 L28.36 -1.64 L28.77 -3.69 L28.77 -4.91 L28.36 -6.96 L27.95 -7.78 L27.54 -8.19 L26.71 -8.60 M36.58 -7.37 L36.17 -6.96 L36.58 -6.55 L36.99 -6.96 L36.99 -7.37 L36.58 -8.19 L35.76 -8.60 L34.52 -8.60 L33.29 -8.19 L32.47 -7.37 L32.06 -6.55 L31.65 -4.91 L31.65 -2.46 L32.06 -1.23 L32.88 -0.41 L34.11 0.00 L34.93 0.00 L36.17 -0.41 L36.99 -1.23 L37.40 -2.46 L37.40 -2.87 L36.99 -4.09 L36.17 -4.91 L34.93 -5.32 L34.52 -5.32 L33.29 -4.91 L32.47 -4.09 L32.06 -2.87 M34.52 -8.60 L33.70 -8.19 L32.88 -7.37 L32.47 -6.55 L32.06 -4.91 L32.06 -2.46 L32.47 -1.23 L33.29 -0.41 L34.11 0.00 M34.93 0.00 L35.76 -0.41 L36.58 -1.23 L36.99 -2.46 L36.99 -2.87 L36.58 -4.09 L35.76 -4.91 L34.93 -5.32 M39.87 -10.24 L40.69 -9.42 L41.51 -8.19 L42.33 -6.55 L42.74 -4.50 L42.74 -2.87 L42.33 -0.82 L41.51 0.82 L40.69 2.05 L39.87 2.87 M40.69 -9.42 L41.51 -7.78 L41.92 -6.55 L42.33 -4.50 L42.33 -2.87 L41.92 -0.82 L41.51 0.41 L40.69 2.05" fill="none" stroke="#ff0000" stroke-width="1.0" stroke-linecap="round" stroke-linejoin="round" stroke-opacity="1.0"/>
<path transform="translate(44.20 384.90) translate(-5.40 0)" d="M2.16 -8.84 L2.70 -8.32 L2.16 -7.80 L1.62 -8.32 L1.62 -8.84 L2.16 -9.88 L2.70 -10.40 L4.32 -10.92 L6.48 -10.92 L8.10 -10.40 L8.64 -9.88 L9.18 -8.84 L9.18 -7.80 L8.64 -6.76 L7.02 -5.72 L4.32 -4.68 L3.24 -4.16 L2.16 -3.12 L1.62 -1.56 L1.62 0.00 M6.48 -10.92 L7.56 -10.40 L8.10 -9.88 L8.64 -8.84 L8.64 -7.80 L8.10 -6.76 L6.48 -5.72 L4.32 -4.68 M1.62 -1.04 L2.16 -1.56 L3.24 -1.56 L5.94 -0.52 L7.56 -0.52 L8.64 -1.04 L9.18 -1.56 M3.24 -1.56 L5.94 0.00 L8.10 0.00 L8.64 -0.52 L9.18 -1.56 L9.18 -2.60" fill="none" stroke="#000" stroke-width="1.0" stroke-linecap="round" stroke-linejoin="round" stroke-opacity="1.0"/>
<path transform="translate(70.45 384.90) translate(-5.40 0)" d="M2.16 -8.84 L2.70 -8.32 L2.16 -7.80 L1.62 -8.32 L1.62 -8.84 L2.16 -9.88 L2.70 -10.40 L4.32 -10.92 L6.48 -10.92 L8.10 -10.40 L8.64 -9.36 L8.64 -7.80 L8.10 -6.76 L6.48 -6.24 L4.86 -6.24 M6.48 -10.92 L7.56 -10.40 L8.10 -9.36 L8.10 -7.80 L7.56 -6.76 L6.48 -6.24 M6.48 -6.24 L7.56 -5.72 L8.64 -4.68 L9.18 -3.64 L9.18 -2.08 L8.64 -1.04 L8.10 -0.52 L6.48 0.00 L4.32 0.00 L2.70 -0.52 L2.16 -1.04 L1.62 -2.08 L1.62 -2.60 L2.16 -3.12 L2.70 -2.60 L2.16 -2.08 M8.10 -5.20 L8.64 -3.64 L8.64 -2.08 L8.10 -1.04 L7.56 -0.52 L6.48 0.00" fill="none" stroke="#000" stroke-width="1.0" stroke-linecap="round" stroke-linejoin="round" stroke-opacity="1.0"/>
<path transform="translate(96.71 384.90) translate(-5.40 0)" d="M6.48 -9.88 L6.48 0.00 M7.02 -10.92 L7.02 0.00 M7.02 -10.92 L1.08 -3.12 L9.72 -3.12 M4.86 0.00 L8.64 0.00" fill="none" stroke="#000" stroke-width="1.0" stroke-linecap="round" stroke-linejoin="round" stroke-opacity="1.0"/>
<path transform="translate(122.96 384.90) translate(-5.40 0)" d="M2.70 -10.92 L1.62 -5.72 M1.62 -5.72 L2.70 -6.76 L4.32 -7.28 L5.94 -7.28 L7.56 -6.76 L8.64 -5.72 L9.18 -4.16 L9.18 -3.12 L8.64 -1.56 L7.56 -0.52 L5.94 0.00 L4.32 0.00 L2.70 -0.52 L2.16 -1.04 L1.62 -2.08 L1.62 -2.60 L2.16 -3.12 L2.70 -2.60 L2.16 -2.08 M5.94 -7.28 L7.02 -6.76 L8.10 -5.72 L8.64 -4.16 L8.64 -3.12 L8.10 -1.56 L7.02 -0.52 L5.94 0.00 M2.70 -10.92 L8.10 -10.92 M2.70 -10.40 L5.40 -10.40 L8.10 -10.92" fill="none" stroke="#000" stroke-width="1.0" stroke-linecap="round" stroke-linejoin="round" stroke-opacity="1.0"/>
<path transform="translate(149.22 384.90) translate(-5.40 0)" d="M8.10 -9.36 L7.56 -8.84 L8.10 -8.32 L8.64 -8.84 L8.64 -9.36 L8.10 -10.40 L7.02 -10.92 L5.40 -10.92 L3.78 -10.40 L2.70 -9.36 L2.16 -8.32 L1.62 -6.24 L1.62 -3.12 L2.16 -1.56 L3.24 -0.52 L4.86 0.00 L5.94 0.00 L7.56 -0.52 L8.64 -1.56 L9.18 -3.12 L9.18 -3.64 L8.64 -5.20 L7.56 -6.24 L5.94 -6.76 L5.40 -6.76 L3.78 -6.24 L2.70 -5.20 L2.16 -3.64 M5.40 -10.92 L4.32 -10.40 L3.24 -9.36 L2.70 -8.32 L2.16 -6.24 L2.16 -3.12 L2.70 -1.56 L3.78 -0.52 L4.86 0.00 M5.94 0.00 L7.02 -0.52 L8.10 -1.56 L8.64 -3.12 L8.64 -3.64 L8.10 -5.20 L7.02 -6.24 L5.94 -6.76" fill="none" stroke="#000" stroke-width="1.0" stroke-linecap="round" stroke-linejoin="round" stroke-opacity="1.0"/>
<path transform="translate(175.47 384.90) translate(-5.40 0)" d="M1.62 -10.92 L1.62 -7.80 M1.62 -8.84 L2.16 -9.88 L3.24 -10.92 L4.32 -10.92 L7.02 -9.36 L8.10 -9.36 L8.64 -9.88 L9.18 -10.92 M2.16 -9.88 L3.24 -10.40 L4.32 -10.40 L7.02 -9.36 M9.18 -10.92 L9.18 -9.36 L8.64 -7.80 L6.48 -5.20 L5.94 -4.16 L5.40 -2.60 L5.40 0.00 M8.64 -7.80 L5.94 -5.20 L5.40 -4.16 L4.86 -2.60 L4.86 0.00" fill="none" stroke="#000" stroke-width="1.0" stroke-linecap="round" stroke-linejoin="round" stroke-opacity="1.0"/>
<path transform="translate(201.72 384.90) translate(-5.40 0)" d="M4.32 -10.92 L2.70 -10.40 L2.16 -9.36 L2.16 -7.80 L2.70 -6.76 L4.32 -6.24 L6.48 -6.24 L8.10 -6.76 L8.64 -7.80 L8.64 -9.36 L8.10 -10.40 L6.48 -10.92 L4.32 -10.92 M4.32 -10.92 L3.24 -10.40 L2.70 -9.36 L2.70 -7.80 L3.24 -6.76 L4.32 -6.24 M6.48 -6.24 L7.56 -6.76 L8.10 -7.80 L8.10 -9.36 L7.56 -10.40 L6.48 -10.92 M4.32 -6.24 L2.70 -5.72 L2.16 -5.20 L1.62 -4.16 L1.62 -2.08 L2.16 -1.04 L2.70 -0.52 L4.32 0.00 L6.48 0.00 L8.10 -0.52 L8.64 -1.04 L9.18 -2.08 L9.18 -4.16 L8.64 -5.20 L8.10 -5.72 L6.48 -6.24 M4.32 -6.24 L3.24 -5.72 L2.70 -5.20 L2.16 -4.16 L2.16 -2.08 L2.70 -1.04 L3.24 -0.52 L4.32 0.00 M6.48 0.00 L7.56 -0.52 L8.10 -1.04 L8.64 -2.08 L8.64 -4.16 L8.10 -5.20 L7.56 -5.72 L6.48 -6.24" fill="none" stroke="#000" stroke-width="1.0" stroke-linecap="round" stroke-linejoin="round" stroke-opacity="1.0"/>
<path transform="translate(227.98 384.90) translate(-5.40 0)" d="M8.64 -7.28 L8.10 -5.72 L7.02 -4.68 L5.40 -4.16 L4.86 -4.16 L3.24 -4.68 L2.16 -5.72 L1.62 -7.28 L1.62 -7.80 L2.16 -9.36 L3.24 -10.40 L4.86 -10.92 L5.94 -10.92 L7.56 -10.40 L8.64 -9.36 L9.18 -7.80 L9.18 -4.68 L8.64 -2.60 L8.10 -1.56 L7.02 -0.52 L5.40 0.00 L3.78 0.00 L2.70 -0.52 L2.16 -1.56 L2.16 -2.08 L2.70 -2.60 L3.24 -2.08 L2.70 -1.56 M4.86 -4.16 L3.78 -4.68 L2.70 -5.72 L2.16 -7.28 L2.16 -7.80 L2.70 -9.36 L3.78 -10.40 L4.86 -10.92 M5.94 -10.92 L7.02 -10.40 L8.10 -9.36 L8.64 -7.80 L8.64 -4.68 L8.10 -2.60 L7.56 -1.56 L6.48 -0.52 L5.40 0.00" fill="none" stroke="#000" stroke-width="1.0" stroke-linecap="round" stroke-linejoin="round" stroke-opacity="1.0"/>
<path transform="translate(254.23 384.90) translate(-10.80 0)" d="M3.24 -8.84 L4.32 -9.36 L5.94 -10.92 L5.94 0.00 M5.40 -10.40 L5.40 0.00 M3.24 0.00 L8.10 0.00 M15.66 -10.92 L14.04 -10.40 L12.96 -8.84 L12.42 -6.24 L12.42 -4.68 L12.96 -2.08 L14.04 -0.52 L15.66 0.00 L16.74 0.00 L18.36 -0.52 L19.44 -2.08 L19.98 -4.68 L19.98 -6.24 L19.44 -8.84 L18.36 -10.40 L16.74 -10.92 L15.66 -10.92 M15.66 -10.92 L14.58 -10.40 L14.04 -9.88 L13.50 -8.84 L12.96 -6.24 L12.96 -4.68 L13.50 -2.08 L14.04 -1.04 L14.58 -0.52 L15.66 0.00 M16.74 0.00 L17.82 -0.52 L18.36 -1.04 L18.90 -2.08 L19.44 -4.68 L19.44 -6.24 L18.90 -8.84 L18.36 -9.88 L17.82 -10.40 L16.74 -10.92" fill="none" stroke="#000" stroke-width="1.0" stroke-linecap="round" stroke-linejoin="round" stroke-opacity="1.0"/>
<path transform="translate(280.48 384.90) translate(-10.80 0)" d="M3.24 -8.84 L4.32 -9.36 L5.94 -10.92 L5.94 0.00 M5.40 -10.40 L5.40 0.00 M3.24 0.00 L8.10 0.00 M14.04 -8.84 L15.12 -9.36 L16.74 -10.92 L16.74 0.00 M16.20 -10.40 L16.20 0.00 M14.04 0.00 L18.90 0.00" fill="none" stroke="#000" stroke-width="1.0" stroke-linecap="round" stroke-linejoin="round" stroke-opacity="1.0"/>
<path transform="translate(306.74 384.90) translate(-10.80 0)" d="M3.24 -8.84 L4.32 -9.36 L5.94 -10.92 L5.94 0.00 M5.40 -10.40 L5.40 0.00 M3.24 0.00 L8.10 0.00 M12.96 -8.84 L13.50 -8.32 L12.96 -7.80 L12.42 -8.32 L12.42 -8.84 L12.96 -9.88 L13.50 -10.40 L15.12 -10.92 L17.28 -10.92 L18.90 -10.40 L19.44 -9.88 L19.98 -8.84 L19.98 -7.80 L19.44 -6.76 L17.82 -5.72 L15.12 -4.68 L14.04 -4.16 L12.96 -3.12 L12.42 -1.56 L12.42 0.00 M17.28 -10.92 L18.36 -10.40 L18.90 -9.88 L19.44 -8.84 L19.44 -7.80 L18.90 -6.76 L17.28 -5.72 L15.12 -4.68 M12.42 -1.04 L12.96 -1.56 L14.04 -1.56 L16.74 -0.52 L18.36 -0.52 L19.44 -1.04 L19.98 -1.56 M14.04 -1.56 L16.74 0.00 L18.90 0.00 L19.44 -0.52 L19.98 -1.56 L19.98 -2.60" fill="none" stroke="#000" stroke-width="1.0" stroke-linecap="round" stroke-linejoin="round" stroke-opacity="1.0"/>
<path transform="translate(332.99 384.90) translate(-10.80 0)" d="M3.24 -8.84 L4.32 -9.36 L5.94 -10.92 L5.94 0.00 M5.40 -10.40 L5.40 0.00 M3.24 0.00 L8.10 0.00 M12.96 -8.84 L13.50 -8.32 L12.96 -7.80 L12.42 -8.32 L12.42 -8.84 L12.96 -9.88 L13.50 -10.40 L15.12 -10.92 L17.28 -10.92 L18.90 -10.40 L19.44 -9.36 L19.44 -7.80 L18.90 -6.76 L17.28 -6.24 L15.66 -6.24 M17.28 -10.92 L18.36 -10.40 L18.90 -9.36 L18.90 -7.80 L18.36 -6.76 L17.28 -6.24 M17.28 -6.24 L18.36 -5.72 L19.44 -4.68 L19.98 -3.64 L19.98 -2.08 L19.44 -1.04 L18.90 -0.52 L17.28 0.00 L15.12 0.00 L13.50 -0.52 L12.96 -1.04 L12.42 -2.08 L12.42 -2.60 L12.96 -3.12 L13.50 -2.60 L12.96 -2.08 M18.90 -5.20 L19.44 -3.64 L19.44 -2.08 L18.90 -1.04 L18.36 -0.52 L17.28 0.00" fill="none" stroke="#000" stroke-width="1.0" stroke-linecap="round" stroke-linejoin="round" stroke-opacity="1.0"/>
<path transform="translate(359.25 384.90) translate(-10.80 0)" d="M3.24 -8.84 L4.32 -9.36 L5.94 -10.92 L5.94 0.00 M5.40 -10.40 L5.40 0.00 M3.24 0.00 L8.10 0.00 M17.28 -9.88 L17.28 0.00 M17.82 -10.92 L17.82 0.00 M17.82 -10.92 L11.88 -3.12 L20.52 -3.12 M15.66 0.00 L19.44 0.00" fill="none" stroke="#000" stroke-width="1.0" stroke-linecap="round" stroke-linejoin="round" stroke-opacity="1.0"/>
<path transform="translate(385.50 384.90) translate(-10.80 0)" d="M3.24 -8.84 L4.32 -9.36 L5.94 -10.92 L5.94 0.00 M5.40 -10.40 L5.40 0.00 M3.24 0.00 L8.10 0.00 M13.50 -10.92 L12.42 -5.72 M12.42 -5.72 L13.50 -6.76 L15.12 -7.28 L16.74 -7.28 L18.36 -6.76 L19.44 -5.72 L19.98 -4.16 L19.98 -3.12 L19.44 -1.56 L18.36 -0.52 L16.74 0.00 L15.12 0.00 L13.50 -0.52 L12.96 -1.04 L12.42 -2.08 L12.42 -2.60 L12.96 -3.12 L13.50 -2.60 L12.96 -2.08 M16.74 -7.28 L17.82 -6.76 L18.90 -5.72 L19.44 -4.16 L19.44 -3.12 L18.90 -1.56 L17.82 -0.52 L16.74 0.00 M13.50 -10.92 L18.90 -10.92 M13.50 -10.40 L16.20 -10.40 L18.90 -10.92" fill="none" stroke="#000" stroke-width="1.0" stroke-linecap="round" stroke-linejoin="round" stroke-opacity="1.0"/>
<path transform="translate(34.50 369.38) translate(-11.00 0)" d="M4.95 -11.76 L3.30 -11.20 L2.20 -9.52 L1.65 -6.72 L1.65 -5.04 L2.20 -2.24 L3.30 -0.56 L4.95 0.00 L6.05 0.00 L7.70 -0.56 L8.80 -2.24 L9.35 -5.04 L9.35 -6.72 L8.80 -9.52 L7.70 -11.20 L6.05 -11.76 L4.95 -11.76 M4.95 -11.76 L3.85 -11.20 L3.30 -10.64 L2.75 -9.52 L2.20 -6.72 L2.20 -5.04 L2.75 -2.24 L3.30 -1.12 L3.85 -0.56 L4.95 0.00 M6.05 0.00 L7.15 -0.56 L7.70 -1.12 L8.25 -2.24 L8.80 -5.04 L8.80 -6.72 L8.25 -9.52 L7.70 -10.64 L7.15 -11.20 L6.05 -11.76" fill="none" stroke="#000" stroke-width="1.0" stroke-linecap="round" stroke-linejoin="round" stroke-opacity="1.0"/>
<path transform="translate(34.50 301.18) translate(-27.50 0)" d="M4.95 -11.76 L3.30 -11.20 L2.20 -9.52 L1.65 -6.72 L1.65 -5.04 L2.20 -2.24 L3.30 -0.56 L4.95 0.00 L6.05 0.00 L7.70 -0.56 L8.80 -2.24 L9.35 -5.04 L9.35 -6.72 L8.80 -9.52 L7.70 -11.20 L6.05 -11.76 L4.95 -11.76 M4.95 -11.76 L3.85 -11.20 L3.30 -10.64 L2.75 -9.52 L2.20 -6.72 L2.20 -5.04 L2.75 -2.24 L3.30 -1.12 L3.85 -0.56 L4.95 0.00 M6.05 0.00 L7.15 -0.56 L7.70 -1.12 L8.25 -2.24 L8.80 -5.04 L8.80 -6.72 L8.25 -9.52 L7.70 -10.64 L7.15 -11.20 L6.05 -11.76 M13.75 -1.12 L13.20 -0.56 L13.75 0.00 L14.30 -0.56 L13.75 -1.12 M18.70 -9.52 L19.25 -8.96 L18.70 -8.40 L18.15 -8.96 L18.15 -9.52 L18.70 -10.64 L19.25 -11.20 L20.90 -11.76 L23.10 -11.76 L24.75 -11.20 L25.30 -10.64 L25.85 -9.52 L25.85 -8.40 L25.30 -7.28 L23.65 -6.16 L20.90 -5.04 L19.80 -4.48 L18.70 -3.36 L18.15 -1.68 L18.15 0.00 M23.10 -11.76 L24.20 -11.20 L24.75 -10.64 L25.30 -9.52 L25.30 -8.40 L24.75 -7.28 L23.10 -6.16 L20.90 -5.04 M18.15 -1.12 L18.70 -1.68 L19.80 -1.68 L22.55 -0.56 L24.20 -0.56 L25.30 -1.12 L25.85 -1.68 M19.80 -1.68 L22.55 0.00 L24.75 0.00 L25.30 -0.56 L25.85 -1.68 L25.85 -2.80" fill="none" stroke="#000" stroke-width="1.0" stroke-linecap="round" stroke-linejoin="round" stroke-opacity="1.0"/>
<path transform="translate(34.50 232.98) translate(-27.50 0)" d="M4.95 -11.76 L3.30 -11.20 L2.20 -9.52 L1.65 -6.72 L1.65 -5.04 L2.20 -2.24 L3.30 -0.56 L4.95 0.00 L6.05 0.00 L7.70 -0.56 L8.80 -2.24 L9.35 -5.04 L9.35 -6.72 L8.80 -9.52 L7.70 -11.20 L6.05 -11.76 L4.95 -11.76 M4.95 -11.76 L3.85 -11.20 L3.30 -10.64 L2.75 -9.52 L2.20 -6.72 L2.20 -5.04 L2.75 -2.24 L3.30 -1.12 L3.85 -0.56 L4.95 0.00 M6.05 0.00 L7.15 -0.56 L7.70 -1.12 L8.25 -2.24 L8.80 -5.04 L8.80 -6.72 L8.25 -9.52 L7.70 -10.64 L7.15 -11.20 L6.05 -11.76 M13.75 -1.12 L13.20 -0.56 L13.75 0.00 L14.30 -0.56 L13.75 -1.12 M23.10 -10.64 L23.10 0.00 M23.65 -11.76 L23.65 0.00 M23.65 -11.76 L17.60 -3.36 L26.40 -3.36 M21.45 0.00 L25.30 0.00" fill="none" stroke="#000" stroke-width="1.0" stroke-linecap="round" stroke-linejoin="round" stroke-opacity="1.0"/>
<path transform="translate(34.50 164.78) translate(-27.50 0)" d="M4.95 -11.76 L3.30 -11.20 L2.20 -9.52 L1.65 -6.72 L1.65 -5.04 L2.20 -2.24 L3.30 -0.56 L4.95 0.00 L6.05 0.00 L7.70 -0.56 L8.80 -2.24 L9.35 -5.04 L9.35 -6.72 L8.80 -9.52 L7.70 -11.20 L6.05 -11.76 L4.95 -11.76 M4.95 -11.76 L3.85 -11.20 L3.30 -10.64 L2.75 -9.52 L2.20 -6.72 L2.20 -5.04 L2.75 -2.24 L3.30 -1.12 L3.85 -0.56 L4.95 0.00 M6.05 0.00 L7.15 -0.56 L7.70 -1.12 L8.25 -2.24 L8.80 -5.04 L8.80 -6.72 L8.25 -9.52 L7.70 -10.64 L7.15 -11.20 L6.05 -11.76 M13.75 -1.12 L13.20 -0.56 L13.75 0.00 L14.30 -0.56 L13.75 -1.12 M24.75 -10.08 L24.20 -9.52 L24.75 -8.96 L25.30 -9.52 L25.30 -10.08 L24.75 -11.20 L23.65 -11.76 L22.00 -11.76 L20.35 -11.20 L19.25 -10.08 L18.70 -8.96 L18.15 -6.72 L18.15 -3.36 L18.70 -1.68 L19.80 -0.56 L21.45 0.00 L22.55 0.00 L24.20 -0.56 L25.30 -1.68 L25.85 -3.36 L25.85 -3.92 L25.30 -5.60 L24.20 -6.72 L22.55 -7.28 L22.00 -7.28 L20.35 -6.72 L19.25 -5.60 L18.70 -3.92 M22.00 -11.76 L20.90 -11.20 L19.80 -10.08 L19.25 -8.96 L18.70 -6.72 L18.70 -3.36 L19.25 -1.68 L20.35 -0.56 L21.45 0.00 M22.55 0.00 L23.65 -0.56 L24.75 -1.68 L25.30 -3.36 L25.30 -3.92 L24.75 -5.60 L23.65 -6.72 L22.55 -7.28" fill="none" stroke="#000" stroke-width="1.0" stroke-linecap="round" stroke-linejoin="round" stroke-opacity="1.0"/>
<path transform="translate(34.50 96.58) translate(-27.50 0)" d="M4.95 -11.76 L3.30 -11.20 L2.20 -9.52 L1.65 -6.72 L1.65 -5.04 L2.20 -2.24 L3.30 -0.56 L4.95 0.00 L6.05 0.00 L7.70 -0.56 L8.80 -2.24 L9.35 -5.04 L9.35 -6.72 L8.80 -9.52 L7.70 -11.20 L6.05 -11.76 L4.95 -11.76 M4.95 -11.76 L3.85 -11.20 L3.30 -10.64 L2.75 -9.52 L2.20 -6.72 L2.20 -5.04 L2.75 -2.24 L3.30 -1.12 L3.85 -0.56 L4.95 0.00 M6.05 0.00 L7.15 -0.56 L7.70 -1.12 L8.25 -2.24 L8.80 -5.04 L8.80 -6.72 L8.25 -9.52 L7.70 -10.64 L7.15 -11.20 L6.05 -11.76 M13.75 -1.12 L13.20 -0.56 L13.75 0.00 L14.30 -0.56 L13.75 -1.12 M20.90 -11.76 L19.25 -11.20 L18.70 -10.08 L18.70 -8.40 L19.25 -7.28 L20.90 -6.72 L23.10 -6.72 L24.75 -7.28 L25.30 -8.40 L25.30 -10.08 L24.75 -11.20 L23.10 -11.76 L20.90 -11.76 M20.90 -11.76 L19.80 -11.20 L19.25 -10.08 L19.25 -8.40 L19.80 -7.28 L20.90 -6.72 M23.10 -6.72 L24.20 -7.28 L24.75 -8.40 L24.75 -10.08 L24.20 -11.20 L23.10 -11.76 M20.90 -6.72 L19.25 -6.16 L18.70 -5.60 L18.15 -4.48 L18.15 -2.24 L18.70 -1.12 L19.25 -0.56 L20.90 0.00 L23.10 0.00 L24.75 -0.56 L25.30 -1.12 L25.85 -2.24 L25.85 -4.48 L25.30 -5.60 L24.75 -6.16 L23.10 -6.72 M20.90 -6.72 L19.80 -6.16 L19.25 -5.60 L18.70 -4.48 L18.70 -2.24 L19.25 -1.12 L19.80 -0.56 L20.90 0.00 M23.10 0.00 L24.20 -0.56 L24.75 -1.12 L25.30 -2.24 L25.30 -4.48 L24.75 -5.60 L24.20 -6.16 L23.10 -6.72" fill="none" stroke="#000" stroke-width="1.0" stroke-linecap="round" stroke-linejoin="round" stroke-opacity="1.0"/>
<path transform="translate(34.50 28.38) translate(-11.00 0)" d="M3.30 -9.52 L4.40 -10.08 L6.05 -11.76 L6.05 0.00 M5.50 -11.20 L5.50 0.00 M3.30 0.00 L8.25 0.00" fill="none" stroke="#000" stroke-width="1.0" stroke-linecap="round" stroke-linejoin="round" stroke-opacity="1.0"/>
<path transform="translate(215.05 402.50) translate(-4.82 0)" d="M7.49 -7.49 L1.60 0.00 M8.03 -7.49 L2.14 0.00 M2.14 -7.49 L1.60 -5.35 L1.60 -7.49 L8.03 -7.49 M1.60 0.00 L8.03 0.00 L8.03 -2.14 L7.49 0.00" fill="none" stroke="#000" stroke-width="1.0" stroke-linecap="round" stroke-linejoin="round" stroke-opacity="1.0"/>
<path transform="translate(9.40 205.40) rotate(-90) translate(0.00 0)" d="M2.10 -7.35 L7.88 0.00 M2.62 -7.35 L8.40 0.00 M8.40 -7.35 L2.10 0.00 M1.05 -7.35 L4.20 -7.35 M6.30 -7.35 L9.45 -7.35 M1.05 0.00 L4.20 0.00 M6.30 0.00 L9.45 0.00" fill="none" stroke="#000" stroke-width="1.0" stroke-linecap="round" stroke-linejoin="round" stroke-opacity="1.0"/>
<path transform="translate(15.20 195.00) rotate(-90) translate(0.00 0)" d="M1.60 -6.72 L1.28 -6.40 L1.60 -6.08 L1.92 -6.40 L1.60 -6.72 M1.60 -4.48 L1.60 0.00 M1.92 -4.48 L1.92 0.00 M0.64 -4.48 L1.92 -4.48 M0.64 0.00 L2.88 0.00 M5.12 0.00 L4.80 -0.32 L5.12 -0.64 L5.44 -0.32 L5.44 0.32 L5.12 0.96 L4.80 1.28 M8.32 -6.72 L8.32 0.00 M8.64 -6.72 L8.64 0.00 M12.48 -6.72 L12.48 0.00 M12.80 -6.72 L12.80 0.00 M7.36 -6.72 L9.60 -6.72 M11.52 -6.72 L13.76 -6.72 M8.64 -3.52 L12.48 -3.52 M7.36 0.00 L9.60 0.00 M11.52 0.00 L13.76 0.00" fill="none" stroke="#000" stroke-width="1.0" stroke-linecap="round" stroke-linejoin="round" stroke-opacity="1.0"/>
</svg></body></html>
